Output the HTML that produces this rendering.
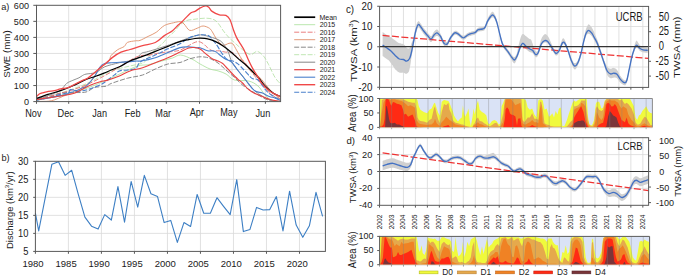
<!DOCTYPE html>
<html><head><meta charset="utf-8"><style>
html,body{margin:0;padding:0;background:#fff;width:685px;height:277px;overflow:hidden}
svg{display:block}
text{font-family:"Liberation Sans", sans-serif;stroke:#1a1a1a;stroke-width:0px;paint-order:stroke;}
</style></head><body>
<svg width="685" height="277" viewBox="0 0 685 277">
<defs>
<clipPath id="clipA"><rect x="36.5" y="5.3" width="244.1" height="96.3"/></clipPath>
<clipPath id="clipC"><rect x="379.6" y="6.4" width="269" height="81"/></clipPath>
<clipPath id="clipD"><rect x="379.6" y="137.7" width="269" height="67.6"/></clipPath>
<clipPath id="clipAC"><rect x="379.6" y="98.5" width="272.8" height="28.9"/></clipPath>
<clipPath id="clipAD"><rect x="379.6" y="236.4" width="270" height="28.3"/></clipPath>
</defs>
<rect width="685" height="277" fill="#fff"/>
<line x1="36.50" y1="85.55" x2="280.60" y2="85.55" stroke="#d9d9d9" stroke-width="0.8" />
<line x1="36.50" y1="69.50" x2="280.60" y2="69.50" stroke="#d9d9d9" stroke-width="0.8" />
<line x1="36.50" y1="53.45" x2="280.60" y2="53.45" stroke="#d9d9d9" stroke-width="0.8" />
<line x1="36.50" y1="37.40" x2="280.60" y2="37.40" stroke="#d9d9d9" stroke-width="0.8" />
<line x1="36.50" y1="21.35" x2="280.60" y2="21.35" stroke="#d9d9d9" stroke-width="0.8" />
<line x1="68.70" y1="5.30" x2="68.70" y2="101.60" stroke="#d9d9d9" stroke-width="0.8" />
<line x1="102.20" y1="5.30" x2="102.20" y2="101.60" stroke="#d9d9d9" stroke-width="0.8" />
<line x1="135.60" y1="5.30" x2="135.60" y2="101.60" stroke="#d9d9d9" stroke-width="0.8" />
<line x1="166.30" y1="5.30" x2="166.30" y2="101.60" stroke="#d9d9d9" stroke-width="0.8" />
<line x1="199.50" y1="5.30" x2="199.50" y2="101.60" stroke="#d9d9d9" stroke-width="0.8" />
<line x1="232.00" y1="5.30" x2="232.00" y2="101.60" stroke="#d9d9d9" stroke-width="0.8" />
<line x1="265.40" y1="5.30" x2="265.40" y2="101.60" stroke="#d9d9d9" stroke-width="0.8" />
<g clip-path="url(#clipA)">
<path d="M36.50,100.00 C40.42,99.25 51.75,97.42 60.00,95.50 C68.25,93.58 77.47,91.42 86.00,88.50 C94.53,85.58 102.82,81.67 111.20,78.00 C119.58,74.33 130.02,68.73 136.30,66.50 C142.58,64.27 144.68,65.52 148.90,64.60 C153.12,63.68 157.67,62.10 161.60,61.00 C165.53,59.90 169.33,59.00 172.50,58.00 C175.67,57.00 177.35,54.82 180.60,55.00 C183.85,55.18 188.75,57.60 192.00,59.10 C195.25,60.60 197.10,62.35 200.10,64.00 C203.10,65.65 207.00,67.85 210.00,69.00 C213.00,70.15 215.40,70.05 218.10,70.90 C220.80,71.75 223.48,72.58 226.20,74.10 C228.92,75.62 230.65,78.85 234.40,80.00 C238.15,81.15 244.77,80.00 248.70,81.00 C252.63,82.00 255.28,83.67 258.00,86.00 C260.72,88.33 262.67,92.58 265.00,95.00 C267.33,97.42 269.40,99.45 272.00,100.50 C274.60,101.55 279.17,101.17 280.60,101.30" fill="none" stroke="#a8e098" stroke-width="0.8" stroke-linejoin="round" />
<path d="M36.50,99.50 C38.75,98.92 44.42,97.58 50.00,96.00 C55.58,94.42 63.33,92.33 70.00,90.00 C76.67,87.67 83.13,85.17 90.00,82.00 C96.87,78.83 104.53,73.67 111.20,71.00 C117.87,68.33 124.58,67.42 130.00,66.00 C135.42,64.58 140.37,64.33 143.70,62.50 C147.03,60.67 147.95,57.25 150.00,55.00 C152.05,52.75 153.83,51.00 156.00,49.00 C158.17,47.00 161.00,45.00 163.00,43.00 C165.00,41.00 166.27,38.75 168.00,37.00 C169.73,35.25 171.40,34.50 173.40,32.50 C175.40,30.50 177.83,26.98 180.00,25.00 C182.17,23.02 183.90,21.57 186.40,20.60 C188.90,19.63 191.95,19.60 195.00,19.20 C198.05,18.80 201.72,18.20 204.70,18.20 C207.68,18.20 210.73,18.45 212.90,19.20 C215.07,19.95 215.95,20.75 217.70,22.70 C219.45,24.65 221.52,28.42 223.40,30.90 C225.28,33.38 226.90,35.42 229.00,37.60 C231.10,39.78 233.67,41.93 236.00,44.00 C238.33,46.07 240.57,48.23 243.00,50.00 C245.43,51.77 248.25,54.37 250.60,54.60 C252.95,54.83 254.93,51.13 257.10,51.40 C259.27,51.67 261.70,54.03 263.60,56.20 C265.50,58.37 266.60,60.87 268.50,64.40 C270.40,67.93 272.98,74.13 275.00,77.40 C277.02,80.67 279.67,82.90 280.60,84.00" fill="none" stroke="#b0e0a0" stroke-width="0.8" stroke-linejoin="round" stroke-dasharray="5,1.7"/>
<path d="M36.50,100.50 C38.75,99.92 45.98,98.25 50.00,97.00 C54.02,95.75 56.78,93.73 60.60,93.00 C64.42,92.27 68.67,92.77 72.90,92.60 C77.13,92.43 82.40,92.85 86.00,92.00 C89.60,91.15 91.17,88.47 94.50,87.50 C97.83,86.53 103.22,86.87 106.00,86.20 C108.78,85.53 107.62,84.83 111.20,83.50 C114.78,82.17 122.27,79.62 127.50,78.20 C132.73,76.78 137.97,76.53 142.60,75.00 C147.23,73.47 151.08,70.83 155.30,69.00 C159.52,67.17 163.78,65.08 167.90,64.00 C172.02,62.92 176.53,63.32 180.00,62.50 C183.47,61.68 185.62,60.03 188.70,59.10 C191.78,58.17 195.78,57.23 198.50,56.90 C201.22,56.57 203.08,56.83 205.00,57.10 C206.92,57.37 207.83,57.52 210.00,58.50 C212.17,59.48 215.33,61.08 218.00,63.00 C220.67,64.92 223.33,67.67 226.00,70.00 C228.67,72.33 231.13,74.40 234.00,77.00 C236.87,79.60 240.07,83.15 243.20,85.60 C246.33,88.05 250.00,89.97 252.80,91.70 C255.60,93.43 257.47,94.62 260.00,96.00 C262.53,97.38 265.50,99.12 268.00,100.00 C270.50,100.88 273.83,101.08 275.00,101.30" fill="none" stroke="#888888" stroke-width="1.0" stroke-linejoin="round" stroke-dasharray="5,1.7"/>
<path d="M36.50,99.00 C40.42,98.08 51.75,95.83 60.00,93.50 C68.25,91.17 77.47,88.58 86.00,85.00 C94.53,81.42 102.82,76.67 111.20,72.00 C119.58,67.33 130.02,59.80 136.30,57.00 C142.58,54.20 144.68,55.93 148.90,55.20 C153.12,54.47 156.75,53.35 161.60,52.60 C166.45,51.85 173.60,51.80 178.00,50.70 C182.40,49.60 185.40,47.30 188.00,46.00 C190.60,44.70 191.85,43.63 193.60,42.90 C195.35,42.17 196.93,41.50 198.50,41.60 C200.07,41.70 201.48,42.48 203.00,43.50 C204.52,44.52 206.00,46.48 207.60,47.70 C209.20,48.92 210.72,50.28 212.60,50.80 C214.48,51.32 216.78,50.58 218.90,50.80 C221.02,51.02 222.98,51.78 225.30,52.10 C227.62,52.42 230.70,51.75 232.80,52.70 C234.90,53.65 236.00,56.32 237.90,57.80 C239.80,59.28 242.18,59.57 244.20,61.60 C246.22,63.63 247.70,66.93 250.00,70.00 C252.30,73.07 255.50,77.00 258.00,80.00 C260.50,83.00 262.67,85.50 265.00,88.00 C267.33,90.50 269.40,93.17 272.00,95.00 C274.60,96.83 279.17,98.33 280.60,99.00" fill="none" stroke="#e87070" stroke-width="0.9" stroke-linejoin="round" stroke-dasharray="5,1.7"/>
<path d="M40.00,101.40 C41.38,101.37 45.90,101.45 48.30,101.20 C50.70,100.95 51.95,100.72 54.40,99.90 C56.85,99.08 59.92,97.52 63.00,96.30 C66.08,95.08 70.23,93.73 72.90,92.60 C75.57,91.47 76.82,90.73 79.00,89.50 C81.18,88.27 83.83,86.78 86.00,85.20 C88.17,83.62 90.05,82.37 92.00,80.00 C93.95,77.63 95.87,73.33 97.70,71.00 C99.53,68.67 101.45,67.33 103.00,66.00 C104.55,64.67 105.90,64.00 107.00,63.00 C108.10,62.00 108.90,61.27 109.60,60.00 C110.30,58.73 109.85,57.12 111.20,55.40 C112.55,53.68 115.53,51.18 117.70,49.70 C119.87,48.22 122.57,47.72 124.20,46.50 C125.83,45.28 125.60,43.35 127.50,42.40 C129.40,41.45 133.52,41.13 135.60,40.80 C137.68,40.47 137.92,41.13 140.00,40.40 C142.08,39.67 145.40,37.75 148.10,36.40 C150.80,35.05 153.48,34.12 156.20,32.30 C158.92,30.48 161.53,27.08 164.40,25.50 C167.27,23.92 170.80,23.43 173.40,22.80 C176.00,22.17 178.23,21.52 180.00,21.70 C181.77,21.88 182.38,22.45 184.00,23.90 C185.62,25.35 187.50,29.68 189.70,30.40 C191.90,31.12 194.97,28.93 197.20,28.20 C199.43,27.47 201.03,25.97 203.10,26.00 C205.17,26.03 207.95,27.23 209.60,28.40 C211.25,29.57 211.87,31.27 213.00,33.00 C214.13,34.73 214.78,36.77 216.40,38.80 C218.02,40.83 220.60,44.45 222.70,45.20 C224.80,45.95 227.32,43.52 229.00,43.30 C230.68,43.08 231.53,42.75 232.80,43.90 C234.07,45.05 235.12,47.68 236.60,50.20 C238.08,52.72 239.37,55.55 241.70,59.00 C244.03,62.45 247.77,67.98 250.60,70.90 C253.43,73.82 256.40,74.48 258.70,76.50 C261.00,78.52 262.18,80.42 264.40,83.00 C266.62,85.58 269.30,89.33 272.00,92.00 C274.70,94.67 279.17,97.83 280.60,99.00" fill="none" stroke="#e0906a" stroke-width="0.9" stroke-linejoin="round" />
<path d="M36.50,99.00 C38.75,98.33 45.98,96.50 50.00,95.00 C54.02,93.50 57.82,91.93 60.60,90.00 C63.38,88.07 64.65,85.02 66.70,83.40 C68.75,81.78 70.85,81.23 72.90,80.30 C74.95,79.37 77.37,78.62 79.00,77.80 C80.63,76.98 81.53,76.02 82.70,75.40 C83.87,74.78 83.77,74.60 86.00,74.10 C88.23,73.60 92.98,73.62 96.10,72.40 C99.22,71.18 100.82,68.42 104.70,66.80 C108.58,65.18 114.25,63.92 119.40,62.70 C124.55,61.48 131.93,61.07 135.60,59.50 C139.27,57.93 139.60,54.55 141.40,53.30 C143.20,52.05 144.13,52.63 146.40,52.00 C148.67,51.37 151.90,50.45 155.00,49.50 C158.10,48.55 161.80,47.35 165.00,46.30 C168.20,45.25 170.25,44.58 174.20,43.20 C178.15,41.82 184.65,39.37 188.70,38.00 C192.75,36.63 195.78,35.42 198.50,35.00 C201.22,34.58 202.65,35.07 205.00,35.50 C207.35,35.93 210.07,36.73 212.60,37.60 C215.13,38.47 218.08,39.23 220.20,40.70 C222.32,42.17 223.83,44.18 225.30,46.40 C226.77,48.62 227.95,51.47 229.00,54.00 C230.05,56.53 230.43,59.27 231.60,61.60 C232.77,63.93 234.28,65.72 236.00,68.00 C237.72,70.28 239.78,72.60 241.90,75.30 C244.02,78.00 246.52,81.58 248.70,84.20 C250.88,86.82 252.78,89.03 255.00,91.00 C257.22,92.97 259.50,94.50 262.00,96.00 C264.50,97.50 267.33,99.12 270.00,100.00 C272.67,100.88 276.67,101.08 278.00,101.30" fill="none" stroke="#909090" stroke-width="1.0" stroke-linejoin="round" />
<path d="M36.50,100.00 C39.48,99.48 50.38,97.63 54.40,96.90 C58.42,96.17 58.33,96.12 60.60,95.60 C62.87,95.08 66.37,94.82 68.00,93.80 C69.63,92.78 68.98,90.05 70.40,89.50 C71.82,88.95 74.45,90.80 76.50,90.50 C78.55,90.20 81.12,88.38 82.70,87.70 C84.28,87.02 84.03,88.27 86.00,86.40 C87.97,84.53 92.17,79.73 94.50,76.50 C96.83,73.27 98.30,69.15 100.00,67.00 C101.70,64.85 102.83,64.32 104.70,63.60 C106.57,62.88 107.40,62.98 111.20,62.70 C115.00,62.42 123.43,62.17 127.50,61.90 C131.57,61.63 133.08,61.28 135.60,61.10 C138.12,60.92 139.32,61.37 142.60,60.80 C145.88,60.23 152.13,58.63 155.30,57.70 C158.47,56.77 159.50,56.05 161.60,55.20 C163.70,54.35 164.83,53.87 167.90,52.60 C170.97,51.33 176.53,48.55 180.00,47.60 C183.47,46.65 185.90,46.88 188.70,46.90 C191.50,46.92 194.92,47.57 196.80,47.70 C198.68,47.83 198.20,47.18 200.00,47.70 C201.80,48.22 205.50,50.28 207.60,50.80 C209.70,51.32 211.13,50.58 212.60,50.80 C214.07,51.02 215.13,51.35 216.40,52.10 C217.67,52.85 218.72,54.15 220.20,55.30 C221.68,56.45 223.40,57.85 225.30,59.00 C227.20,60.15 229.55,60.37 231.60,62.20 C233.65,64.03 235.25,67.03 237.60,70.00 C239.95,72.97 242.93,76.60 245.70,80.00 C248.47,83.40 251.42,88.22 254.20,90.40 C256.98,92.58 259.88,92.08 262.40,93.10 C264.92,94.12 267.23,95.70 269.30,96.50 C271.37,97.30 272.92,97.23 274.80,97.90 C276.68,98.57 279.63,100.07 280.60,100.50" fill="none" stroke="#4a80cc" stroke-width="1.1" stroke-linejoin="round" />
<path d="M36.50,99.90 C37.65,99.70 41.03,99.10 43.40,98.70 C45.77,98.30 47.83,98.22 50.70,97.50 C53.57,96.78 56.90,95.32 60.60,94.40 C64.30,93.48 68.67,92.73 72.90,92.00 C77.13,91.27 81.48,91.17 86.00,90.00 C90.52,88.83 96.88,86.30 100.00,85.00 C103.12,83.70 102.28,83.88 104.70,82.20 C107.12,80.52 112.05,76.78 114.50,74.90 C116.95,73.02 117.23,71.72 119.40,70.90 C121.57,70.08 124.80,70.40 127.50,70.00 C130.20,69.60 133.50,69.82 135.60,68.50 C137.70,67.18 137.88,63.90 140.10,62.10 C142.32,60.30 145.95,59.07 148.90,57.70 C151.85,56.33 154.63,55.38 157.80,53.90 C160.97,52.42 164.20,50.48 167.90,48.80 C171.60,47.12 176.53,45.60 180.00,43.80 C183.47,42.00 185.62,39.47 188.70,38.00 C191.78,36.53 195.57,35.50 198.50,35.00 C201.43,34.50 204.37,34.68 206.30,35.00 C208.23,35.32 208.83,35.83 210.10,36.90 C211.37,37.97 212.63,39.82 213.90,41.40 C215.17,42.98 216.43,44.52 217.70,46.40 C218.97,48.28 220.23,50.80 221.50,52.70 C222.77,54.60 224.05,56.53 225.30,57.80 C226.55,59.07 227.75,59.78 229.00,60.30 C230.25,60.82 231.37,60.35 232.80,60.90 C234.23,61.45 235.73,62.08 237.60,63.60 C239.47,65.12 241.92,67.82 244.00,70.00 C246.08,72.18 248.63,75.25 250.10,76.70 C251.57,78.15 251.48,78.15 252.80,78.70 C254.12,79.25 256.05,78.40 258.00,80.00 C259.95,81.60 262.85,86.23 264.50,88.30 C266.15,90.37 266.18,90.92 267.90,92.40 C269.62,93.88 272.68,95.93 274.80,97.20 C276.92,98.47 279.63,99.53 280.60,100.00" fill="none" stroke="#4a80cc" stroke-width="1.1" stroke-linejoin="round" stroke-dasharray="5,1.7"/>
<path d="M36.50,99.50 C40.42,98.92 53.58,97.08 60.00,96.00 C66.42,94.92 70.07,94.77 75.00,93.00 C79.93,91.23 85.27,87.33 89.60,85.40 C93.93,83.47 98.27,82.20 101.00,81.40 C103.73,80.60 102.93,81.50 106.00,80.60 C109.07,79.70 115.40,77.62 119.40,76.00 C123.40,74.38 126.13,72.27 130.00,70.90 C133.87,69.53 138.38,69.17 142.60,67.80 C146.82,66.43 151.08,64.38 155.30,62.70 C159.52,61.02 163.78,59.48 167.90,57.70 C172.02,55.92 176.53,53.62 180.00,52.00 C183.47,50.38 186.37,48.75 188.70,48.00 C191.03,47.25 192.12,47.35 194.00,47.50 C195.88,47.65 198.37,48.13 200.00,48.90 C201.63,49.67 202.53,51.03 203.80,52.10 C205.07,53.17 206.13,54.15 207.60,55.30 C209.07,56.45 210.92,58.07 212.60,59.00 C214.28,59.93 216.02,60.15 217.70,60.90 C219.38,61.65 221.32,62.48 222.70,63.50 C224.08,64.52 224.60,65.50 226.00,67.00 C227.40,68.50 229.17,70.50 231.10,72.50 C233.03,74.50 235.70,77.25 237.60,79.00 C239.50,80.75 240.65,81.22 242.50,83.00 C244.35,84.78 246.52,87.90 248.70,89.70 C250.88,91.50 253.32,92.67 255.60,93.80 C257.88,94.93 260.12,95.58 262.40,96.50 C264.68,97.42 267.00,98.57 269.30,99.30 C271.60,100.03 274.32,100.57 276.20,100.90 C278.08,101.23 279.87,101.23 280.60,101.30" fill="none" stroke="#e84040" stroke-width="1.1" stroke-linejoin="round" />
<path d="M36.50,98.50 C38.42,97.82 43.98,95.70 48.00,94.40 C52.02,93.10 56.45,92.13 60.60,90.70 C64.75,89.27 68.67,87.67 72.90,85.80 C77.13,83.93 82.32,81.05 86.00,79.50 C89.68,77.95 92.00,77.55 95.00,76.50 C98.00,75.45 101.30,74.28 104.00,73.20 C106.70,72.12 108.53,71.12 111.20,70.00 C113.87,68.88 116.87,68.00 120.00,66.50 C123.13,65.00 126.23,62.68 130.00,61.00 C133.77,59.32 138.38,58.00 142.60,56.40 C146.82,54.80 151.08,53.08 155.30,51.40 C159.52,49.72 163.92,47.90 167.90,46.30 C171.88,44.70 175.73,42.92 179.20,41.80 C182.67,40.68 186.07,40.15 188.70,39.60 C191.33,39.05 193.12,38.73 195.00,38.50 C196.88,38.27 197.90,38.15 200.00,38.20 C202.10,38.25 205.07,38.27 207.60,38.80 C210.13,39.33 212.68,40.23 215.20,41.40 C217.72,42.57 220.18,44.12 222.70,45.80 C225.22,47.48 227.77,49.40 230.30,51.50 C232.83,53.60 235.58,56.40 237.90,58.40 C240.22,60.40 242.08,61.65 244.20,63.50 C246.32,65.35 248.18,67.08 250.60,69.50 C253.02,71.92 256.30,75.25 258.70,78.00 C261.10,80.75 262.55,83.45 265.00,86.00 C267.45,88.55 270.80,91.55 273.40,93.30 C276.00,95.05 279.40,95.97 280.60,96.50" fill="none" stroke="#000000" stroke-width="1.25" stroke-linejoin="round" />
<path d="M36.50,96.50 C37.03,96.05 38.55,94.45 39.70,93.80 C40.85,93.15 41.97,93.02 43.40,92.60 C44.83,92.18 46.47,91.62 48.30,91.30 C50.13,90.98 52.35,91.10 54.40,90.70 C56.45,90.30 58.33,89.40 60.60,88.90 C62.87,88.40 65.55,88.52 68.00,87.70 C70.45,86.88 72.85,85.23 75.30,84.00 C77.75,82.77 80.58,81.30 82.70,80.30 C84.82,79.30 85.50,79.72 88.00,78.00 C90.50,76.28 95.45,71.87 97.70,70.00 C99.95,68.13 100.05,68.02 101.50,66.80 C102.95,65.58 104.50,64.32 106.40,62.70 C108.30,61.08 110.47,58.85 112.90,57.10 C115.33,55.35 118.15,53.47 121.00,52.20 C123.85,50.93 126.40,50.58 130.00,49.50 C133.60,48.42 138.38,46.87 142.60,45.70 C146.82,44.53 151.67,44.18 155.30,42.50 C158.93,40.82 161.53,37.57 164.40,35.60 C167.27,33.63 170.20,32.47 172.50,30.70 C174.80,28.93 176.62,26.50 178.20,25.00 C179.78,23.50 179.92,23.70 182.00,21.70 C184.08,19.70 188.53,14.72 190.70,13.00 C192.87,11.28 193.47,12.22 195.00,11.40 C196.53,10.58 198.13,9.02 199.90,8.10 C201.67,7.18 204.12,6.03 205.60,5.90 C207.08,5.77 207.72,6.38 208.80,7.30 C209.88,8.22 210.33,10.13 212.10,11.40 C213.87,12.67 217.10,14.23 219.40,14.90 C221.70,15.57 224.15,14.63 225.90,15.40 C227.65,16.17 228.63,17.07 229.90,19.50 C231.17,21.93 232.38,26.98 233.50,30.00 C234.62,33.02 235.45,35.28 236.60,37.60 C237.75,39.92 239.13,41.80 240.40,43.90 C241.67,46.00 242.93,47.68 244.20,50.20 C245.47,52.72 246.67,56.10 248.00,59.00 C249.33,61.90 250.68,64.82 252.20,67.60 C253.72,70.38 255.40,72.93 257.10,75.70 C258.80,78.47 260.13,81.53 262.40,84.20 C264.67,86.87 267.95,89.73 270.70,91.70 C273.45,93.67 277.25,95.15 278.90,96.00 C280.55,96.85 280.32,96.67 280.60,96.80" fill="none" stroke="#f04848" stroke-width="1.3" stroke-linejoin="round" />
</g>
<rect x="36.5" y="5.3" width="244.10" height="96.30" fill="none" stroke="#595959" stroke-width="1"/>
<line x1="33.30" y1="101.60" x2="36.50" y2="101.60" stroke="#595959" stroke-width="1" />
<text transform="translate(23.92 104.86) scale(1 1.015)" font-size="9.05" fill="#1a1a1a">0</text>
<line x1="33.30" y1="85.55" x2="36.50" y2="85.55" stroke="#595959" stroke-width="1" />
<text transform="translate(13.85 88.81) scale(1 1.015)" font-size="9.05" fill="#1a1a1a">100</text>
<line x1="33.30" y1="69.50" x2="36.50" y2="69.50" stroke="#595959" stroke-width="1" />
<text transform="translate(13.85 72.76) scale(1 1.015)" font-size="9.05" fill="#1a1a1a">200</text>
<line x1="33.30" y1="53.45" x2="36.50" y2="53.45" stroke="#595959" stroke-width="1" />
<text transform="translate(13.85 56.71) scale(1 1.015)" font-size="9.05" fill="#1a1a1a">300</text>
<line x1="33.30" y1="37.40" x2="36.50" y2="37.40" stroke="#595959" stroke-width="1" />
<text transform="translate(13.85 40.66) scale(1 1.015)" font-size="9.05" fill="#1a1a1a">400</text>
<line x1="33.30" y1="21.35" x2="36.50" y2="21.35" stroke="#595959" stroke-width="1" />
<text transform="translate(13.85 24.61) scale(1 1.015)" font-size="9.05" fill="#1a1a1a">500</text>
<line x1="33.30" y1="5.30" x2="36.50" y2="5.30" stroke="#595959" stroke-width="1" />
<text transform="translate(13.85 8.56) scale(1 1.015)" font-size="9.05" fill="#1a1a1a">600</text>
<line x1="36.50" y1="101.60" x2="36.50" y2="103.80" stroke="#595959" stroke-width="1" />
<text transform="translate(25.24 117.00) scale(1 1.112)" font-size="9.16" fill="#1a1a1a">Nov</text>
<line x1="68.70" y1="101.60" x2="68.70" y2="103.80" stroke="#595959" stroke-width="1" />
<text transform="translate(57.56 117.00) scale(1 1.112)" font-size="9.16" fill="#1a1a1a">Dec</text>
<line x1="102.20" y1="101.60" x2="102.20" y2="103.80" stroke="#595959" stroke-width="1" />
<text transform="translate(92.30 117.00) scale(1 1.112)" font-size="9.16" fill="#1a1a1a">Jan</text>
<line x1="135.60" y1="101.60" x2="135.60" y2="103.80" stroke="#595959" stroke-width="1" />
<text transform="translate(124.77 117.19) scale(1 1.112)" font-size="9.16" fill="#1a1a1a">Feb</text>
<line x1="166.30" y1="101.60" x2="166.30" y2="103.80" stroke="#595959" stroke-width="1" />
<text transform="translate(155.35 117.00) scale(1 1.112)" font-size="9.16" fill="#1a1a1a">Mar</text>
<line x1="199.50" y1="101.60" x2="199.50" y2="103.80" stroke="#595959" stroke-width="1" />
<text transform="translate(189.69 115.99) scale(1 1.112)" font-size="9.16" fill="#1a1a1a">Apr</text>
<line x1="232.00" y1="101.60" x2="232.00" y2="103.80" stroke="#595959" stroke-width="1" />
<text transform="translate(220.23 115.99) scale(1 1.112)" font-size="9.16" fill="#1a1a1a">May</text>
<line x1="265.40" y1="101.60" x2="265.40" y2="103.80" stroke="#595959" stroke-width="1" />
<text transform="translate(255.50 117.00) scale(1 1.112)" font-size="9.16" fill="#1a1a1a">Jun</text>
<text transform="translate(9.56 77.79) scale(1 1.027) rotate(-90)" font-size="9.47" fill="#1a1a1a">SWE (mm)</text>
<text transform="translate(1.20 9.80) scale(1 1.000)" font-size="9.20" fill="#1a1a1a">a)</text>
<line x1="294.20" y1="17.20" x2="315.20" y2="17.20" stroke="#000000" stroke-width="1.7" />
<text transform="translate(319.42 19.77) scale(1 1.125)" font-size="7.01" fill="#1a1a1a">Mean</text>
<line x1="294.20" y1="24.70" x2="315.20" y2="24.70" stroke="#a8e098" stroke-width="0.8" />
<text transform="translate(319.65 27.31) scale(1 1.125)" font-size="7.01" fill="#1a1a1a">2015</text>
<line x1="294.20" y1="32.20" x2="315.20" y2="32.20" stroke="#e87070" stroke-width="0.9" stroke-dasharray="5,1.7"/>
<text transform="translate(319.65 34.81) scale(1 1.125)" font-size="7.01" fill="#1a1a1a">2016</text>
<line x1="294.20" y1="39.70" x2="315.20" y2="39.70" stroke="#e0906a" stroke-width="0.9" />
<text transform="translate(319.65 42.31) scale(1 1.125)" font-size="7.01" fill="#1a1a1a">2017</text>
<line x1="294.20" y1="47.20" x2="315.20" y2="47.20" stroke="#888888" stroke-width="1.0" stroke-dasharray="5,1.7"/>
<text transform="translate(319.65 49.81) scale(1 1.125)" font-size="7.01" fill="#1a1a1a">2018</text>
<line x1="294.20" y1="54.70" x2="315.20" y2="54.70" stroke="#b0e0a0" stroke-width="0.8" stroke-dasharray="5,1.7"/>
<text transform="translate(319.65 57.31) scale(1 1.125)" font-size="7.01" fill="#1a1a1a">2019</text>
<line x1="294.20" y1="62.20" x2="315.20" y2="62.20" stroke="#909090" stroke-width="1.1" />
<text transform="translate(319.65 64.81) scale(1 1.125)" font-size="7.01" fill="#1a1a1a">2020</text>
<line x1="294.20" y1="69.70" x2="315.20" y2="69.70" stroke="#e84040" stroke-width="1.2" />
<text transform="translate(319.65 72.31) scale(1 1.125)" font-size="7.01" fill="#1a1a1a">2021</text>
<line x1="294.20" y1="77.20" x2="315.20" y2="77.20" stroke="#4a80cc" stroke-width="1.1" />
<text transform="translate(319.65 79.81) scale(1 1.125)" font-size="7.01" fill="#1a1a1a">2022</text>
<line x1="294.20" y1="84.70" x2="315.20" y2="84.70" stroke="#f04848" stroke-width="1.4" />
<text transform="translate(319.65 87.31) scale(1 1.125)" font-size="7.01" fill="#1a1a1a">2023</text>
<line x1="294.20" y1="92.20" x2="315.20" y2="92.20" stroke="#4a80cc" stroke-width="1.1" stroke-dasharray="5,1.7"/>
<text transform="translate(319.65 94.81) scale(1 1.125)" font-size="7.01" fill="#1a1a1a">2024</text>
<line x1="35.40" y1="233.38" x2="325.40" y2="233.38" stroke="#d9d9d9" stroke-width="0.8" />
<line x1="35.40" y1="215.36" x2="325.40" y2="215.36" stroke="#d9d9d9" stroke-width="0.8" />
<line x1="35.40" y1="197.34" x2="325.40" y2="197.34" stroke="#d9d9d9" stroke-width="0.8" />
<line x1="35.40" y1="179.32" x2="325.40" y2="179.32" stroke="#d9d9d9" stroke-width="0.8" />
<line x1="68.41" y1="161.30" x2="68.41" y2="251.40" stroke="#d9d9d9" stroke-width="0.8" />
<line x1="101.42" y1="161.30" x2="101.42" y2="251.40" stroke="#d9d9d9" stroke-width="0.8" />
<line x1="134.43" y1="161.30" x2="134.43" y2="251.40" stroke="#d9d9d9" stroke-width="0.8" />
<line x1="167.44" y1="161.30" x2="167.44" y2="251.40" stroke="#d9d9d9" stroke-width="0.8" />
<line x1="200.45" y1="161.30" x2="200.45" y2="251.40" stroke="#d9d9d9" stroke-width="0.8" />
<line x1="233.46" y1="161.30" x2="233.46" y2="251.40" stroke="#d9d9d9" stroke-width="0.8" />
<line x1="266.47" y1="161.30" x2="266.47" y2="251.40" stroke="#d9d9d9" stroke-width="0.8" />
<line x1="299.48" y1="161.30" x2="299.48" y2="251.40" stroke="#d9d9d9" stroke-width="0.8" />
<polyline points="35.40,213.20 38.70,230.86 45.30,197.34 51.91,164.18 58.51,161.66 65.11,175.36 71.71,170.31 78.31,194.46 84.91,217.16 91.52,226.17 98.12,229.06 104.72,214.64 111.32,220.05 117.93,186.53 124.53,222.21 131.13,181.48 137.73,207.07 144.33,175.36 150.94,193.74 157.54,196.62 164.14,222.57 170.74,220.41 177.34,242.39 183.95,222.57 190.55,226.53 197.15,194.46 203.75,213.20 210.35,213.20 216.96,197.70 223.56,206.35 230.16,214.64 236.76,179.68 243.36,231.58 249.97,229.42 256.57,207.43 263.17,209.95 269.77,209.59 276.37,196.62 282.98,230.86 289.58,191.21 296.18,225.09 302.78,237.34 309.38,225.81 315.99,192.29 322.59,216.44" fill="none" stroke="#3d7fc4" stroke-width="1.1" stroke-linejoin="round"/>
<rect x="35.4" y="161.3" width="290.00" height="90.10" fill="none" stroke="#595959" stroke-width="1"/>
<line x1="33.20" y1="251.40" x2="35.40" y2="251.40" stroke="#595959" stroke-width="1" />
<text transform="translate(23.27 254.84) scale(1 1.116)" font-size="9.37" fill="#1a1a1a">5</text>
<line x1="33.20" y1="233.38" x2="35.40" y2="233.38" stroke="#595959" stroke-width="1" />
<text transform="translate(18.05 236.88) scale(1 1.116)" font-size="9.37" fill="#1a1a1a">10</text>
<line x1="33.20" y1="215.36" x2="35.40" y2="215.36" stroke="#595959" stroke-width="1" />
<text transform="translate(18.07 218.80) scale(1 1.116)" font-size="9.37" fill="#1a1a1a">15</text>
<line x1="33.20" y1="197.34" x2="35.40" y2="197.34" stroke="#595959" stroke-width="1" />
<text transform="translate(18.05 200.84) scale(1 1.116)" font-size="9.37" fill="#1a1a1a">20</text>
<line x1="33.20" y1="179.32" x2="35.40" y2="179.32" stroke="#595959" stroke-width="1" />
<text transform="translate(18.07 182.82) scale(1 1.116)" font-size="9.37" fill="#1a1a1a">25</text>
<line x1="33.20" y1="161.30" x2="35.40" y2="161.30" stroke="#595959" stroke-width="1" />
<text transform="translate(18.05 164.80) scale(1 1.116)" font-size="9.37" fill="#1a1a1a">30</text>
<line x1="35.40" y1="251.40" x2="35.40" y2="253.80" stroke="#595959" stroke-width="1" />
<text transform="translate(22.49 267.00) scale(1 1.009)" font-size="9.53" fill="#1a1a1a">1980</text>
<line x1="68.41" y1="251.40" x2="68.41" y2="253.80" stroke="#595959" stroke-width="1" />
<text transform="translate(55.51 267.00) scale(1 1.009)" font-size="9.53" fill="#1a1a1a">1985</text>
<line x1="101.42" y1="251.40" x2="101.42" y2="253.80" stroke="#595959" stroke-width="1" />
<text transform="translate(88.51 267.00) scale(1 1.009)" font-size="9.53" fill="#1a1a1a">1990</text>
<line x1="134.43" y1="251.40" x2="134.43" y2="253.80" stroke="#595959" stroke-width="1" />
<text transform="translate(121.53 267.00) scale(1 1.009)" font-size="9.53" fill="#1a1a1a">1995</text>
<line x1="167.44" y1="251.40" x2="167.44" y2="253.80" stroke="#595959" stroke-width="1" />
<text transform="translate(154.64 267.00) scale(1 1.009)" font-size="9.53" fill="#1a1a1a">2000</text>
<line x1="200.45" y1="251.40" x2="200.45" y2="253.80" stroke="#595959" stroke-width="1" />
<text transform="translate(187.67 267.00) scale(1 1.009)" font-size="9.53" fill="#1a1a1a">2005</text>
<line x1="233.46" y1="251.40" x2="233.46" y2="253.80" stroke="#595959" stroke-width="1" />
<text transform="translate(220.66 267.00) scale(1 1.009)" font-size="9.53" fill="#1a1a1a">2010</text>
<line x1="266.47" y1="251.40" x2="266.47" y2="253.80" stroke="#595959" stroke-width="1" />
<text transform="translate(253.69 267.00) scale(1 1.009)" font-size="9.53" fill="#1a1a1a">2015</text>
<line x1="299.48" y1="251.40" x2="299.48" y2="253.80" stroke="#595959" stroke-width="1" />
<text transform="translate(286.68 267.00) scale(1 1.009)" font-size="9.53" fill="#1a1a1a">2020</text>
<text transform="translate(12.75 249.03) scale(1 1.000) rotate(-90)" font-size="9.45" fill="#1a1a1a">Discharge (km<tspan font-size="5.86" dy="-3.78">3</tspan><tspan dy="3.78">/yr)</tspan></text>
<text transform="translate(1.50 160.90) scale(1 1.000)" font-size="9.20" fill="#1a1a1a">b)</text>
<line x1="379.60" y1="26.50" x2="648.60" y2="26.50" stroke="#d9d9d9" stroke-width="0.8" />
<line x1="379.60" y1="67.00" x2="648.60" y2="67.00" stroke="#d9d9d9" stroke-width="0.8" />
<line x1="391.47" y1="6.40" x2="391.47" y2="87.40" stroke="#d9d9d9" stroke-width="0.8" />
<line x1="403.44" y1="6.40" x2="403.44" y2="87.40" stroke="#d9d9d9" stroke-width="0.8" />
<line x1="415.41" y1="6.40" x2="415.41" y2="87.40" stroke="#d9d9d9" stroke-width="0.8" />
<line x1="427.38" y1="6.40" x2="427.38" y2="87.40" stroke="#d9d9d9" stroke-width="0.8" />
<line x1="439.35" y1="6.40" x2="439.35" y2="87.40" stroke="#d9d9d9" stroke-width="0.8" />
<line x1="451.32" y1="6.40" x2="451.32" y2="87.40" stroke="#d9d9d9" stroke-width="0.8" />
<line x1="463.29" y1="6.40" x2="463.29" y2="87.40" stroke="#d9d9d9" stroke-width="0.8" />
<line x1="475.26" y1="6.40" x2="475.26" y2="87.40" stroke="#d9d9d9" stroke-width="0.8" />
<line x1="487.23" y1="6.40" x2="487.23" y2="87.40" stroke="#d9d9d9" stroke-width="0.8" />
<line x1="499.20" y1="6.40" x2="499.20" y2="87.40" stroke="#d9d9d9" stroke-width="0.8" />
<line x1="511.17" y1="6.40" x2="511.17" y2="87.40" stroke="#d9d9d9" stroke-width="0.8" />
<line x1="523.14" y1="6.40" x2="523.14" y2="87.40" stroke="#d9d9d9" stroke-width="0.8" />
<line x1="535.11" y1="6.40" x2="535.11" y2="87.40" stroke="#d9d9d9" stroke-width="0.8" />
<line x1="547.08" y1="6.40" x2="547.08" y2="87.40" stroke="#d9d9d9" stroke-width="0.8" />
<line x1="559.05" y1="6.40" x2="559.05" y2="87.40" stroke="#d9d9d9" stroke-width="0.8" />
<line x1="571.02" y1="6.40" x2="571.02" y2="87.40" stroke="#d9d9d9" stroke-width="0.8" />
<line x1="582.99" y1="6.40" x2="582.99" y2="87.40" stroke="#d9d9d9" stroke-width="0.8" />
<line x1="594.96" y1="6.40" x2="594.96" y2="87.40" stroke="#d9d9d9" stroke-width="0.8" />
<line x1="606.93" y1="6.40" x2="606.93" y2="87.40" stroke="#d9d9d9" stroke-width="0.8" />
<line x1="618.90" y1="6.40" x2="618.90" y2="87.40" stroke="#d9d9d9" stroke-width="0.8" />
<line x1="630.87" y1="6.40" x2="630.87" y2="87.40" stroke="#d9d9d9" stroke-width="0.8" />
<line x1="642.84" y1="6.40" x2="642.84" y2="87.40" stroke="#d9d9d9" stroke-width="0.8" />
<g clip-path="url(#clipC)">
<path d="M382.60,32.00 L382.90,32.22 L383.30,32.50 L383.78,32.84 L384.31,33.23 L384.87,33.63 L385.43,34.03 L385.99,34.43 L386.50,34.80 L386.98,35.14 L387.45,35.45 L387.92,35.76 L388.39,36.08 L388.87,36.35 L389.36,36.56 L389.87,36.79 L390.40,37.08 L390.96,37.42 L391.55,37.81 L392.16,38.24 L392.79,38.69 L393.41,39.15 L394.03,39.60 L394.63,40.02 L395.20,40.40 L395.75,40.82 L396.27,41.24 L396.79,41.65 L397.29,42.04 L397.79,42.40 L398.29,42.72 L398.79,42.97 L399.30,43.16 L399.82,43.26 L400.35,43.37 L400.88,43.52 L401.41,43.64 L401.93,43.74 L402.44,43.85 L402.93,43.98 L403.40,44.17 L403.84,44.44 L404.27,44.77 L404.67,45.14 L405.07,45.56 L405.45,46.21 L405.84,46.80 L406.22,47.31 L406.60,47.70 L406.99,47.99 L407.39,48.23 L407.79,48.39 L408.18,48.49 L408.56,48.51 L408.93,48.45 L409.28,48.26 L409.60,47.98 L409.89,47.62 L410.14,47.19 L410.37,46.69 L410.59,46.11 L410.80,45.45 L411.02,44.72 L411.25,43.90 L411.50,43.00 L411.78,42.44 L412.07,41.77 L412.38,41.01 L412.69,40.19 L413.00,39.35 L413.31,38.06 L413.61,36.61 L413.90,35.26 L414.18,33.98 L414.44,32.69 L414.70,31.43 L414.96,30.20 L415.21,29.02 L415.47,27.91 L415.73,26.88 L416.00,25.95 L416.28,25.09 L416.56,24.27 L416.85,23.51 L417.14,22.82 L417.44,22.23 L417.73,21.75 L418.02,21.40 L418.30,21.20 L418.57,21.09 L418.83,21.14 L419.09,21.33 L419.34,21.63 L419.61,22.01 L419.88,22.44 L420.18,22.88 L420.50,23.32 L420.85,23.78 L421.22,24.31 L421.60,24.89 L422.00,25.50 L422.41,26.13 L422.83,26.77 L423.26,27.40 L423.70,28.00 L424.15,28.57 L424.61,29.15 L425.09,29.73 L425.58,30.31 L426.07,30.88 L426.56,31.44 L427.04,31.98 L427.50,32.50 L427.96,33.05 L428.41,33.64 L428.86,34.25 L429.30,34.84 L429.74,35.35 L430.17,35.76 L430.59,36.02 L431.00,36.10 L431.40,35.91 L431.79,35.50 L432.17,34.94 L432.55,34.27 L432.92,33.56 L433.28,32.86 L433.64,32.24 L434.00,31.74 L434.36,31.32 L434.71,30.93 L435.06,30.56 L435.41,30.23 L435.74,29.93 L436.07,29.69 L436.39,29.51 L436.70,29.40 L436.99,29.46 L437.27,29.59 L437.54,29.78 L437.80,30.02 L438.05,30.29 L438.30,30.58 L438.55,30.89 L438.80,31.19 L439.04,31.48 L439.28,31.79 L439.51,32.10 L439.74,32.44 L439.97,32.80 L440.20,33.20 L440.44,33.64 L440.70,34.13 L440.97,34.70 L441.26,35.29 L441.56,35.93 L441.86,36.60 L442.16,37.27 L442.45,37.91 L442.73,38.49 L443.00,39.00 L443.24,39.44 L443.47,39.85 L443.68,40.23 L443.88,40.57 L444.09,40.87 L444.31,41.13 L444.54,41.34 L444.80,41.50 L445.08,41.65 L445.38,41.80 L445.69,41.92 L446.01,41.99 L446.34,42.00 L446.68,41.92 L447.04,41.74 L447.40,41.44 L447.77,40.97 L448.16,40.34 L448.56,39.59 L448.96,38.76 L449.38,37.91 L449.81,37.06 L450.25,36.24 L450.70,35.50 L451.17,34.81 L451.67,34.11 L452.18,33.41 L452.70,32.75 L453.22,32.14 L453.73,31.62 L454.23,31.20 L454.70,30.90 L455.13,30.74 L455.53,30.69 L455.91,30.74 L456.27,30.87 L456.65,31.07 L457.06,31.31 L457.50,31.60 L458.00,31.90 L458.56,32.29 L459.18,32.83 L459.84,33.44 L460.52,34.09 L461.22,34.70 L461.90,35.23 L462.57,35.61 L463.20,35.80 L463.80,35.76 L464.38,35.54 L464.96,35.19 L465.52,34.74 L466.07,34.26 L466.62,33.77 L467.16,33.34 L467.70,33.00 L468.24,32.74 L468.77,32.50 L469.31,32.28 L469.83,32.07 L470.35,31.89 L470.85,31.72 L471.33,31.55 L471.80,31.40 L472.24,31.28 L472.66,31.19 L473.06,31.13 L473.45,31.08 L473.83,31.02 L474.21,30.93 L474.60,30.80 L475.00,30.60 L475.40,30.32 L475.80,29.97 L476.20,29.57 L476.59,29.14 L477.00,28.72 L477.42,28.32 L477.85,27.97 L478.30,27.70 L478.79,27.51 L479.31,27.38 L479.85,27.30 L480.41,27.25 L480.95,27.21 L481.48,27.17 L481.96,27.10 L482.40,27.00 L482.78,26.91 L483.10,26.86 L483.39,26.82 L483.66,26.76 L483.92,26.65 L484.18,26.46 L484.47,26.15 L484.80,25.70 L485.16,25.03 L485.52,24.15 L485.90,23.15 L486.29,22.06 L486.70,20.94 L487.12,19.84 L487.55,18.79 L488.00,17.85 L488.48,16.96 L489.00,16.04 L489.55,15.13 L490.10,14.26 L490.65,13.46 L491.17,12.76 L491.66,12.20 L492.10,11.80 L492.48,11.72 L492.82,11.77 L493.12,11.92 L493.40,12.17 L493.67,12.51 L493.93,12.93 L494.21,13.41 L494.50,13.94 L494.80,14.52 L495.10,15.14 L495.40,15.83 L495.70,16.60 L496.01,17.45 L496.32,18.41 L496.65,19.49 L497.00,20.70 L497.37,22.04 L497.77,23.61 L498.19,25.33 L498.62,27.13 L499.04,28.95 L499.45,30.71 L499.84,32.34 L500.20,33.78 L500.52,35.05 L500.81,36.22 L501.09,37.31 L501.34,38.31 L501.60,39.25 L501.85,40.13 L502.12,40.96 L502.40,41.73 L502.69,42.44 L502.99,43.04 L503.28,43.58 L503.59,44.06 L503.90,44.51 L504.22,44.95 L504.55,45.41 L504.90,45.90 L505.27,46.38 L505.65,46.83 L506.04,47.28 L506.45,47.73 L506.86,48.18 L507.28,48.65 L507.69,49.13 L508.10,49.64 L508.51,50.19 L508.93,50.77 L509.35,51.38 L509.77,52.00 L510.19,52.62 L510.60,53.21 L511.01,53.76 L511.40,54.24 L511.78,54.72 L512.16,55.22 L512.52,55.72 L512.88,56.19 L513.24,56.58 L513.59,56.88 L513.95,57.04 L514.30,57.03 L514.65,56.88 L515.00,56.62 L515.34,56.24 L515.68,55.76 L516.03,55.18 L516.37,54.51 L516.73,53.78 L517.10,52.70 L517.49,50.63 L517.89,48.33 L518.31,46.49 L518.73,44.81 L519.14,43.14 L519.55,41.53 L519.94,40.07 L520.30,38.80 L520.63,37.70 L520.94,36.70 L521.23,35.97 L521.51,35.38 L521.79,34.87 L522.08,34.47 L522.38,34.16 L522.70,33.96 L523.04,33.91 L523.40,34.02 L523.76,34.25 L524.13,34.56 L524.51,34.93 L524.90,35.31 L525.30,35.66 L525.70,35.96 L526.11,36.25 L526.54,36.61 L526.98,36.99 L527.43,37.36 L527.88,37.73 L528.33,38.08 L528.77,38.41 L529.20,38.70 L529.62,38.94 L530.04,39.12 L530.46,39.26 L530.87,39.40 L531.28,40.10 L531.69,41.10 L532.09,42.16 L532.50,43.30 L532.91,44.58 L533.32,46.00 L533.74,47.50 L534.15,48.78 L534.56,49.60 L534.95,50.34 L535.33,50.94 L535.70,51.34 L536.04,51.57 L536.36,51.70 L536.66,51.72 L536.95,51.64 L537.24,51.45 L537.54,51.16 L537.86,50.77 L538.20,50.03 L538.57,48.91 L538.95,47.54 L539.34,46.00 L539.75,44.37 L540.16,42.72 L540.58,41.14 L540.99,39.69 L541.40,38.65 L541.81,37.79 L542.22,37.04 L542.63,36.38 L543.05,35.81 L543.47,35.31 L543.88,34.88 L544.29,34.52 L544.70,34.21 L545.10,34.03 L545.49,34.14 L545.87,34.30 L546.25,34.53 L546.64,34.84 L547.04,35.23 L547.46,35.71 L547.90,36.29 L548.37,37.00 L548.86,37.85 L549.38,38.91 L549.90,40.08 L550.43,41.29 L550.96,42.50 L551.49,43.67 L552.00,44.77 L552.51,45.88 L553.02,47.05 L553.54,47.89 L554.05,48.71 L554.56,49.46 L555.05,50.09 L555.53,50.54 L556.00,50.79 L556.45,50.80 L556.88,50.64 L557.29,50.33 L557.70,49.89 L558.10,49.34 L558.50,48.72 L558.90,48.05 L559.30,47.35 L559.71,46.52 L560.12,45.47 L560.54,44.22 L560.95,42.93 L561.36,41.68 L561.75,40.53 L562.13,39.57 L562.50,38.87 L562.84,38.40 L563.16,38.23 L563.46,38.31 L563.75,38.53 L564.04,38.85 L564.34,39.30 L564.66,39.85 L565.00,40.50 L565.37,41.29 L565.75,42.24 L566.14,43.26 L566.55,44.24 L566.96,45.29 L567.38,46.39 L567.79,47.50 L568.20,48.60 L568.61,49.75 L569.02,51.00 L569.43,52.32 L569.85,53.65 L570.27,54.97 L570.68,56.22 L571.09,57.37 L571.50,58.33 L571.90,59.21 L572.30,60.05 L572.70,60.84 L573.10,61.55 L573.50,62.16 L573.90,62.64 L574.30,62.96 L574.70,63.10 L575.11,63.18 L575.52,63.09 L575.93,62.85 L576.35,62.49 L576.77,62.00 L577.18,61.42 L577.59,60.74 L578.00,60.00 L578.41,59.05 L578.82,57.95 L579.24,56.74 L579.65,55.44 L580.06,54.09 L580.45,52.70 L580.83,51.30 L581.20,49.93 L581.55,48.54 L581.88,47.08 L582.19,45.59 L582.50,44.07 L582.80,42.58 L583.10,41.12 L583.40,39.72 L583.70,38.42 L584.00,37.19 L584.30,35.81 L584.60,34.47 L584.90,33.19 L585.20,31.97 L585.50,30.83 L585.80,29.78 L586.10,28.83 L586.40,27.98 L586.70,27.20 L587.00,26.51 L587.30,25.90 L587.61,25.38 L587.92,24.93 L588.25,24.57 L588.60,24.30 L588.97,24.41 L589.35,24.64 L589.75,24.97 L590.16,25.39 L590.57,25.88 L590.98,26.41 L591.40,26.98 L591.80,27.56 L592.20,28.19 L592.62,28.90 L593.03,29.68 L593.44,30.65 L593.85,31.62 L594.25,32.59 L594.63,33.52 L595.00,34.40 L595.34,35.19 L595.66,35.92 L595.96,36.60 L596.25,37.27 L596.54,37.98 L596.84,38.73 L597.16,39.52 L597.50,40.37 L597.87,41.34 L598.25,42.40 L598.64,43.54 L599.05,44.74 L599.46,45.97 L599.88,47.23 L600.29,48.49 L600.70,49.73 L601.11,50.98 L601.52,52.26 L601.93,53.57 L602.35,54.89 L602.77,56.20 L603.18,57.50 L603.59,58.77 L604.00,60.00 L604.40,60.89 L604.80,61.81 L605.20,62.73 L605.60,63.61 L606.00,64.45 L606.40,65.20 L606.80,65.85 L607.20,66.47 L607.61,67.05 L608.02,67.53 L608.43,67.92 L608.85,68.22 L609.27,68.44 L609.68,68.61 L610.09,68.73 L610.50,68.82 L610.90,68.82 L611.30,68.72 L611.70,68.54 L612.10,68.32 L612.50,68.08 L612.90,67.86 L613.30,67.82 L613.70,67.91 L614.11,68.05 L614.52,68.20 L614.93,68.36 L615.35,68.56 L615.77,68.79 L616.18,69.09 L616.59,69.45 L617.00,69.90 L617.40,70.45 L617.79,71.12 L618.17,71.85 L618.55,72.62 L618.94,73.42 L619.34,74.21 L619.76,74.96 L620.20,75.65 L620.68,76.32 L621.20,77.02 L621.75,77.73 L622.30,78.41 L622.85,79.03 L623.37,79.57 L623.86,79.99 L624.30,80.22 L624.68,80.32 L625.02,80.38 L625.32,80.35 L625.60,80.23 L625.87,79.99 L626.13,79.62 L626.41,79.08 L626.70,78.37 L627.01,77.42 L627.32,76.24 L627.63,74.88 L627.95,73.38 L628.27,71.82 L628.58,70.24 L628.89,68.69 L629.20,67.23 L629.50,65.80 L629.81,64.34 L630.11,62.87 L630.41,61.40 L630.70,59.96 L631.00,58.56 L631.30,57.22 L631.60,55.98 L631.90,54.80 L632.20,53.55 L632.50,52.29 L632.79,51.07 L633.09,49.91 L633.39,48.80 L633.70,47.75 L634.00,46.74 L634.30,45.77 L634.60,44.80 L634.90,43.87 L635.20,43.01 L635.51,42.22 L635.82,41.54 L636.15,41.00 L636.50,40.60 L636.87,40.78 L637.25,41.18 L637.64,41.75 L638.05,42.41 L638.46,43.14 L638.88,43.85 L639.29,44.51 L639.70,45.06 L640.10,45.48 L640.48,45.75 L640.86,46.00 L641.25,46.23 L641.65,46.45 L642.07,46.64 L642.52,46.82 L643.00,46.99 L643.56,47.14 L644.21,47.28 L644.90,47.40 L645.61,47.50 L646.29,47.59 L646.90,47.67 L647.42,47.73 L647.80,47.79 L647.80,52.80 L647.42,52.77 L646.90,52.74 L646.29,52.70 L645.61,52.65 L644.90,52.59 L644.21,52.51 L643.56,52.42 L643.00,52.30 L642.52,52.16 L642.07,52.01 L641.65,51.84 L641.25,51.66 L640.86,51.45 L640.48,51.22 L640.10,50.97 L639.70,50.70 L639.29,50.34 L638.88,49.87 L638.46,49.34 L638.05,48.81 L637.64,48.32 L637.25,47.94 L636.87,47.72 L636.50,47.70 L636.15,47.86 L635.82,48.18 L635.51,48.64 L635.20,49.21 L634.90,49.87 L634.60,50.59 L634.30,51.35 L634.00,52.12 L633.70,52.92 L633.39,53.76 L633.09,54.66 L632.79,55.62 L632.50,56.63 L632.20,57.69 L631.90,58.81 L631.60,60.02 L631.30,61.31 L631.00,62.68 L630.70,64.12 L630.41,65.60 L630.11,67.11 L629.81,68.62 L629.50,70.11 L629.20,71.58 L628.89,73.08 L628.58,74.66 L628.27,76.29 L627.95,77.89 L627.63,79.42 L627.32,80.82 L627.01,82.05 L626.70,83.03 L626.41,83.78 L626.13,84.35 L625.87,84.76 L625.60,85.03 L625.32,85.19 L625.02,85.25 L624.68,85.24 L624.30,85.18 L623.86,85.06 L623.37,84.88 L622.85,84.61 L622.30,84.26 L621.75,83.85 L621.20,83.42 L620.68,82.98 L620.20,82.55 L619.76,82.08 L619.34,81.54 L618.94,80.95 L618.55,80.35 L618.17,79.77 L617.79,79.20 L617.40,78.69 L617.00,78.30 L616.59,78.02 L616.18,77.82 L615.77,77.69 L615.35,77.62 L614.93,77.59 L614.52,77.59 L614.11,77.61 L613.70,77.63 L613.30,77.70 L612.90,77.83 L612.50,77.95 L612.10,78.09 L611.70,78.22 L611.30,78.30 L610.90,78.30 L610.50,78.19 L610.09,78.01 L609.68,77.78 L609.27,77.51 L608.85,77.18 L608.43,76.78 L608.02,76.29 L607.61,75.71 L607.20,75.02 L606.80,74.11 L606.40,73.00 L606.00,71.78 L605.60,70.48 L605.20,69.13 L604.80,67.75 L604.40,66.37 L604.00,65.00 L603.59,63.86 L603.18,62.68 L602.77,61.47 L602.35,60.24 L601.93,59.01 L601.52,57.79 L601.11,56.60 L600.70,55.44 L600.29,54.28 L599.88,53.11 L599.46,51.94 L599.05,50.80 L598.64,49.69 L598.25,48.63 L597.87,47.65 L597.50,46.76 L597.16,45.99 L596.84,45.31 L596.54,44.70 L596.25,44.15 L595.96,43.62 L595.66,43.09 L595.34,42.52 L595.00,41.90 L594.63,41.21 L594.25,40.47 L593.85,39.70 L593.44,38.93 L593.03,38.17 L592.62,37.49 L592.20,36.87 L591.80,36.34 L591.40,35.85 L590.98,35.37 L590.57,34.93 L590.16,34.54 L589.75,34.21 L589.35,33.97 L588.97,33.82 L588.60,33.80 L588.25,33.77 L587.92,33.85 L587.61,34.01 L587.30,34.27 L587.00,34.62 L586.70,35.05 L586.40,35.57 L586.10,36.16 L585.80,36.84 L585.50,37.63 L585.20,38.51 L584.90,39.47 L584.60,40.50 L584.30,41.57 L584.00,42.69 L583.70,43.90 L583.40,45.17 L583.10,46.54 L582.80,47.98 L582.50,49.45 L582.19,50.94 L581.88,52.41 L581.55,53.84 L581.20,55.20 L580.83,56.54 L580.45,57.90 L580.06,59.26 L579.65,60.58 L579.24,61.85 L578.82,63.02 L578.41,64.08 L578.00,65.00 L577.59,65.93 L577.18,66.79 L576.77,67.56 L576.35,68.24 L575.93,68.79 L575.52,69.22 L575.11,69.49 L574.70,69.60 L574.30,69.29 L573.90,68.81 L573.50,68.17 L573.10,67.41 L572.70,66.53 L572.30,65.58 L571.90,64.57 L571.50,63.54 L571.09,62.40 L570.68,61.19 L570.27,59.89 L569.85,58.53 L569.43,57.16 L569.02,55.81 L568.61,54.51 L568.20,53.32 L567.79,52.18 L567.38,51.02 L566.96,49.89 L566.55,48.79 L566.14,47.77 L565.75,46.87 L565.37,46.11 L565.00,45.50 L564.66,45.02 L564.34,44.62 L564.04,44.33 L563.75,44.15 L563.46,44.09 L563.16,44.15 L562.84,44.35 L562.50,44.70 L562.13,45.28 L561.75,46.11 L561.36,47.13 L560.95,48.25 L560.54,49.40 L560.12,50.51 L559.71,51.50 L559.30,52.30 L558.90,52.97 L558.50,53.62 L558.10,54.21 L557.70,54.73 L557.29,55.14 L556.88,55.42 L556.45,55.55 L556.00,55.50 L555.53,55.23 L555.05,54.73 L554.56,54.07 L554.05,53.29 L553.54,52.43 L553.02,51.55 L552.51,50.69 L552.00,49.90 L551.49,49.12 L550.96,48.27 L550.43,47.39 L549.90,46.52 L549.38,45.68 L548.86,44.91 L548.37,44.24 L547.90,43.70 L547.46,43.29 L547.04,42.97 L546.64,42.73 L546.25,42.56 L545.87,42.47 L545.49,42.45 L545.10,42.50 L544.70,42.60 L544.29,42.76 L543.88,42.96 L543.47,43.23 L543.05,43.58 L542.63,43.99 L542.22,44.50 L541.81,45.10 L541.40,45.80 L540.99,46.69 L540.58,47.86 L540.16,49.16 L539.75,50.53 L539.34,51.89 L538.95,53.17 L538.57,54.28 L538.20,55.17 L537.86,55.82 L537.54,56.34 L537.24,56.74 L536.95,57.03 L536.66,57.22 L536.36,57.31 L536.04,57.30 L535.70,57.20 L535.33,56.94 L534.95,56.48 L534.56,55.90 L534.15,55.23 L533.74,54.57 L533.32,53.97 L532.91,53.44 L532.50,53.05 L532.09,52.79 L531.69,52.62 L531.28,52.50 L530.87,52.40 L530.46,52.26 L530.04,52.12 L529.62,51.94 L529.20,51.70 L528.77,51.41 L528.33,51.08 L527.88,50.73 L527.43,50.36 L526.98,49.99 L526.54,49.61 L526.11,49.25 L525.70,48.87 L525.30,48.45 L524.90,47.98 L524.51,47.48 L524.13,47.00 L523.76,46.57 L523.40,46.23 L523.04,46.02 L522.70,45.97 L522.38,46.07 L522.08,46.29 L521.79,46.61 L521.51,47.03 L521.23,47.54 L520.94,48.14 L520.63,48.84 L520.30,49.60 L519.94,50.50 L519.55,51.58 L519.14,52.78 L518.73,54.04 L518.31,55.30 L517.89,56.50 L517.49,57.59 L517.10,58.50 L516.73,59.39 L516.37,60.26 L516.03,61.07 L515.68,61.78 L515.34,62.41 L515.00,62.92 L514.65,63.32 L514.30,63.44 L513.95,63.30 L513.59,62.99 L513.24,62.54 L512.88,61.99 L512.52,61.38 L512.16,60.72 L511.78,60.05 L511.40,59.41 L511.01,58.76 L510.60,58.14 L510.19,57.48 L509.77,56.80 L509.35,56.11 L508.93,55.43 L508.51,54.77 L508.10,54.16 L507.69,53.58 L507.28,53.03 L506.86,52.49 L506.45,51.97 L506.04,51.45 L505.65,50.94 L505.27,50.42 L504.90,49.90 L504.55,49.42 L504.22,48.97 L503.90,48.54 L503.59,48.09 L503.28,47.62 L502.99,47.09 L502.69,46.50 L502.40,45.80 L502.12,45.03 L501.85,44.21 L501.60,43.34 L501.34,42.41 L501.09,41.40 L500.81,40.32 L500.52,39.16 L500.20,37.90 L499.84,36.47 L499.45,34.85 L499.04,33.10 L498.62,31.29 L498.19,29.50 L497.77,27.79 L497.37,26.23 L497.00,24.90 L496.65,23.80 L496.32,22.83 L496.01,21.98 L495.70,21.22 L495.40,20.55 L495.10,19.96 L494.80,19.43 L494.50,18.96 L494.21,18.52 L493.93,18.13 L493.67,17.80 L493.40,17.55 L493.12,17.39 L492.82,17.33 L492.48,17.40 L492.10,17.60 L491.66,17.89 L491.17,18.33 L490.65,18.89 L490.10,19.55 L489.55,20.28 L489.00,21.05 L488.48,21.84 L488.00,22.61 L487.55,23.44 L487.12,24.37 L486.70,25.37 L486.29,26.39 L485.90,27.38 L485.52,28.29 L485.16,29.07 L484.80,29.70 L484.47,30.15 L484.18,30.46 L483.92,30.65 L483.66,30.76 L483.39,30.82 L483.10,30.86 L482.78,30.91 L482.40,31.00 L481.96,31.10 L481.48,31.17 L480.95,31.21 L480.41,31.25 L479.85,31.30 L479.31,31.38 L478.79,31.51 L478.30,31.70 L477.85,31.97 L477.42,32.32 L477.00,32.72 L476.59,33.14 L476.20,33.57 L475.80,33.97 L475.40,34.32 L475.00,34.60 L474.60,34.80 L474.21,34.93 L473.83,35.02 L473.45,35.08 L473.06,35.13 L472.66,35.19 L472.24,35.28 L471.80,35.40 L471.33,35.55 L470.85,35.72 L470.35,35.89 L469.83,36.07 L469.31,36.28 L468.77,36.50 L468.24,36.74 L467.70,37.00 L467.16,37.34 L466.62,37.77 L466.07,38.26 L465.52,38.74 L464.96,39.19 L464.38,39.54 L463.80,39.76 L463.20,39.80 L462.57,39.61 L461.90,39.23 L461.22,38.70 L460.52,38.09 L459.84,37.44 L459.18,36.83 L458.56,36.29 L458.00,35.90 L457.50,35.60 L457.06,35.31 L456.65,35.07 L456.27,34.87 L455.91,34.74 L455.53,34.69 L455.13,34.74 L454.70,34.90 L454.23,35.20 L453.73,35.62 L453.22,36.14 L452.70,36.75 L452.18,37.41 L451.67,38.11 L451.17,38.81 L450.70,39.50 L450.25,40.24 L449.81,41.09 L449.38,42.03 L448.96,42.97 L448.56,43.88 L448.16,44.71 L447.77,45.42 L447.40,45.96 L447.04,46.34 L446.68,46.59 L446.34,46.73 L446.01,46.79 L445.69,46.78 L445.38,46.72 L445.08,46.63 L444.80,46.50 L444.54,46.34 L444.31,46.13 L444.09,45.87 L443.88,45.57 L443.68,45.23 L443.47,44.85 L443.24,44.44 L443.00,44.00 L442.73,43.49 L442.45,42.91 L442.16,42.27 L441.86,41.60 L441.56,40.93 L441.26,40.29 L440.97,39.71 L440.70,39.23 L440.44,38.83 L440.20,38.48 L439.97,38.16 L439.74,37.88 L439.51,37.62 L439.28,37.39 L439.04,37.17 L438.80,36.96 L438.55,36.74 L438.30,36.52 L438.05,36.32 L437.80,36.13 L437.54,35.99 L437.27,35.89 L436.99,35.86 L436.70,35.90 L436.39,35.99 L436.07,36.14 L435.74,36.35 L435.41,36.61 L435.06,36.92 L434.71,37.25 L434.36,37.62 L434.00,38.00 L433.64,38.47 L433.28,39.06 L432.92,39.73 L432.55,40.41 L432.17,41.04 L431.79,41.57 L431.40,41.94 L431.00,42.10 L430.59,42.02 L430.17,41.76 L429.74,41.35 L429.30,40.84 L428.86,40.25 L428.41,39.64 L427.96,39.05 L427.50,38.50 L427.04,37.98 L426.56,37.44 L426.07,36.88 L425.58,36.31 L425.09,35.73 L424.61,35.15 L424.15,34.57 L423.70,34.00 L423.26,33.42 L422.83,32.82 L422.41,32.20 L422.00,31.59 L421.60,31.00 L421.22,30.45 L420.85,29.94 L420.50,29.50 L420.18,29.08 L419.88,28.65 L419.61,28.24 L419.34,27.88 L419.09,27.59 L418.83,27.41 L418.57,27.37 L418.30,27.50 L418.02,27.85 L417.73,28.35 L417.44,28.98 L417.14,29.72 L416.85,30.56 L416.56,31.47 L416.28,32.43 L416.00,33.44 L415.73,34.52 L415.47,35.68 L415.21,36.93 L414.96,38.24 L414.70,39.60 L414.44,41.00 L414.18,42.42 L413.90,43.85 L413.61,45.34 L413.31,46.95 L413.00,48.66 L412.69,50.48 L412.38,52.27 L412.07,53.98 L411.78,55.58 L411.50,57.00 L411.25,58.81 L411.02,60.46 L410.80,61.97 L410.59,63.39 L410.37,64.75 L410.14,66.08 L409.89,67.43 L409.60,68.82 L409.28,70.26 L408.93,71.54 L408.56,72.05 L408.18,72.51 L407.79,72.91 L407.39,73.24 L406.99,73.50 L406.60,73.70 L406.22,73.79 L405.84,73.76 L405.45,73.65 L405.07,73.48 L404.67,73.24 L404.27,73.00 L403.84,72.79 L403.40,72.66 L402.93,72.62 L402.44,72.63 L401.93,72.68 L401.41,72.74 L400.88,72.79 L400.35,72.79 L399.82,72.73 L399.30,72.58 L398.79,72.34 L398.29,72.03 L397.79,71.67 L397.29,71.26 L396.79,70.81 L396.27,70.35 L395.75,69.87 L395.20,69.40 L394.63,68.58 L394.03,67.70 L393.41,66.77 L392.79,65.84 L392.16,64.91 L391.55,64.00 L390.96,63.16 L390.40,62.38 L389.87,61.69 L389.36,61.06 L388.87,60.48 L388.39,60.08 L387.92,59.76 L387.45,59.45 L386.98,59.14 L386.50,58.80 L385.99,58.43 L385.43,58.03 L384.87,57.63 L384.31,57.23 L383.78,56.84 L383.30,56.50 L382.90,56.22 L382.60,56.00Z" fill="#d0d0d0" stroke="none"/>
<line x1="382.6" y1="35.4" x2="648.6" y2="58.4" stroke="#ee3333" stroke-width="1.25" stroke-dasharray="7,2.4"/>
<path d="M382.60,45.00 C383.25,45.47 385.20,46.87 386.50,47.80 C387.80,48.73 388.95,49.33 390.40,50.60 C391.85,51.87 393.72,54.00 395.20,55.40 C396.68,56.80 397.93,58.32 399.30,59.00 C400.67,59.68 402.18,59.15 403.40,59.50 C404.62,59.85 405.57,61.27 406.60,61.10 C407.63,60.93 408.78,60.02 409.60,58.50 C410.42,56.98 410.78,55.08 411.50,52.00 C412.22,48.92 413.15,43.67 413.90,40.00 C414.65,36.33 415.27,32.58 416.00,30.00 C416.73,27.42 417.55,25.08 418.30,24.50 C419.05,23.92 419.60,25.42 420.50,26.50 C421.40,27.58 422.53,29.50 423.70,31.00 C424.87,32.50 426.28,34.15 427.50,35.50 C428.72,36.85 429.92,39.18 431.00,39.10 C432.08,39.02 433.05,36.03 434.00,35.00 C434.95,33.97 435.90,33.03 436.70,32.90 C437.50,32.77 438.13,33.57 438.80,34.20 C439.47,34.83 440.00,35.48 440.70,36.70 C441.40,37.92 442.32,40.28 443.00,41.50 C443.68,42.72 444.07,43.63 444.80,44.00 C445.53,44.37 446.42,44.78 447.40,43.70 C448.38,42.62 449.48,39.30 450.70,37.50 C451.92,35.70 453.48,33.50 454.70,32.90 C455.92,32.30 456.58,33.08 458.00,33.90 C459.42,34.72 461.58,37.62 463.20,37.80 C464.82,37.98 466.27,35.73 467.70,35.00 C469.13,34.27 470.58,33.80 471.80,33.40 C473.02,33.00 473.92,33.22 475.00,32.60 C476.08,31.98 477.07,30.30 478.30,29.70 C479.53,29.10 481.32,29.33 482.40,29.00 C483.48,28.67 483.87,29.13 484.80,27.70 C485.73,26.27 486.78,22.50 488.00,20.40 C489.22,18.30 491.02,15.72 492.10,15.10 C493.18,14.48 493.68,15.40 494.50,16.70 C495.32,18.00 496.05,19.70 497.00,22.90 C497.95,26.10 499.30,32.42 500.20,35.90 C501.10,39.38 501.62,41.80 502.40,43.80 C503.18,45.80 503.95,46.55 504.90,47.90 C505.85,49.25 507.02,50.42 508.10,51.90 C509.18,53.38 510.37,55.45 511.40,56.80 C512.43,58.15 513.35,60.13 514.30,60.00 C515.25,59.87 516.10,58.15 517.10,56.00 C518.10,53.85 519.37,49.22 520.30,47.10 C521.23,44.98 521.80,43.50 522.70,43.30 C523.60,43.10 524.62,45.00 525.70,45.90 C526.78,46.80 528.07,47.97 529.20,48.70 C530.33,49.43 531.42,49.30 532.50,50.30 C533.58,51.30 534.75,54.30 535.70,54.70 C536.65,55.10 537.25,54.52 538.20,52.70 C539.15,50.88 540.32,45.82 541.40,43.80 C542.48,41.78 543.62,40.95 544.70,40.60 C545.78,40.25 546.68,40.48 547.90,41.70 C549.12,42.92 550.65,45.93 552.00,47.90 C553.35,49.87 554.78,53.10 556.00,53.50 C557.22,53.90 558.22,52.10 559.30,50.30 C560.38,48.50 561.55,43.83 562.50,42.70 C563.45,41.57 564.05,42.10 565.00,43.50 C565.95,44.90 567.12,48.20 568.20,51.10 C569.28,54.00 570.42,58.40 571.50,60.90 C572.58,63.40 573.62,65.83 574.70,66.10 C575.78,66.37 576.92,64.73 578.00,62.50 C579.08,60.27 580.25,56.22 581.20,52.70 C582.15,49.18 582.88,44.65 583.70,41.40 C584.52,38.15 585.28,35.05 586.10,33.20 C586.92,31.35 587.65,30.30 588.60,30.30 C589.55,30.30 590.73,31.77 591.80,33.20 C592.87,34.63 594.05,37.13 595.00,38.90 C595.95,40.67 596.55,41.50 597.50,43.80 C598.45,46.10 599.62,49.58 600.70,52.70 C601.78,55.82 602.92,59.45 604.00,62.50 C605.08,65.55 606.12,69.10 607.20,71.00 C608.28,72.90 609.42,73.53 610.50,73.90 C611.58,74.27 612.62,73.15 613.70,73.20 C614.78,73.25 615.92,73.22 617.00,74.20 C618.08,75.18 618.98,77.68 620.20,79.10 C621.42,80.52 623.22,82.43 624.30,82.70 C625.38,82.97 625.88,82.92 626.70,80.70 C627.52,78.48 628.38,73.18 629.20,69.40 C630.02,65.62 630.80,61.25 631.60,58.00 C632.40,54.75 633.18,52.03 634.00,49.90 C634.82,47.77 635.55,45.48 636.50,45.20 C637.45,44.92 638.62,47.43 639.70,48.20 C640.78,48.97 641.65,49.45 643.00,49.80 C644.35,50.15 647.00,50.22 647.80,50.30" fill="none" stroke="#4472c4" stroke-width="1.35" stroke-linejoin="round"/>
</g>
<line x1="379.60" y1="46.60" x2="648.60" y2="46.60" stroke="#333" stroke-width="1.1" />
<rect x="379.6" y="6.4" width="269.00" height="81.00" fill="none" stroke="#595959" stroke-width="1"/>
<line x1="377.20" y1="6.25" x2="379.60" y2="6.25" stroke="#595959" stroke-width="1" />
<text transform="translate(361.51 9.89) scale(1 1.171)" font-size="9.78" fill="#1a1a1a">20</text>
<line x1="377.20" y1="26.50" x2="379.60" y2="26.50" stroke="#595959" stroke-width="1" />
<text transform="translate(361.51 30.14) scale(1 1.171)" font-size="9.78" fill="#1a1a1a">10</text>
<line x1="377.20" y1="46.75" x2="379.60" y2="46.75" stroke="#595959" stroke-width="1" />
<text transform="translate(366.94 50.39) scale(1 1.171)" font-size="9.78" fill="#1a1a1a">0</text>
<line x1="377.20" y1="67.00" x2="379.60" y2="67.00" stroke="#595959" stroke-width="1" />
<text transform="translate(358.23 70.64) scale(1 1.171)" font-size="9.78" fill="#1a1a1a">-10</text>
<line x1="377.20" y1="87.25" x2="379.60" y2="87.25" stroke="#595959" stroke-width="1" />
<text transform="translate(358.23 90.89) scale(1 1.171)" font-size="9.78" fill="#1a1a1a">-20</text>
<line x1="379.50" y1="87.40" x2="379.50" y2="89.70" stroke="#595959" stroke-width="1" />
<line x1="391.47" y1="87.40" x2="391.47" y2="89.70" stroke="#595959" stroke-width="1" />
<line x1="403.44" y1="87.40" x2="403.44" y2="89.70" stroke="#595959" stroke-width="1" />
<line x1="415.41" y1="87.40" x2="415.41" y2="89.70" stroke="#595959" stroke-width="1" />
<line x1="427.38" y1="87.40" x2="427.38" y2="89.70" stroke="#595959" stroke-width="1" />
<line x1="439.35" y1="87.40" x2="439.35" y2="89.70" stroke="#595959" stroke-width="1" />
<line x1="451.32" y1="87.40" x2="451.32" y2="89.70" stroke="#595959" stroke-width="1" />
<line x1="463.29" y1="87.40" x2="463.29" y2="89.70" stroke="#595959" stroke-width="1" />
<line x1="475.26" y1="87.40" x2="475.26" y2="89.70" stroke="#595959" stroke-width="1" />
<line x1="487.23" y1="87.40" x2="487.23" y2="89.70" stroke="#595959" stroke-width="1" />
<line x1="499.20" y1="87.40" x2="499.20" y2="89.70" stroke="#595959" stroke-width="1" />
<line x1="511.17" y1="87.40" x2="511.17" y2="89.70" stroke="#595959" stroke-width="1" />
<line x1="523.14" y1="87.40" x2="523.14" y2="89.70" stroke="#595959" stroke-width="1" />
<line x1="535.11" y1="87.40" x2="535.11" y2="89.70" stroke="#595959" stroke-width="1" />
<line x1="547.08" y1="87.40" x2="547.08" y2="89.70" stroke="#595959" stroke-width="1" />
<line x1="559.05" y1="87.40" x2="559.05" y2="89.70" stroke="#595959" stroke-width="1" />
<line x1="571.02" y1="87.40" x2="571.02" y2="89.70" stroke="#595959" stroke-width="1" />
<line x1="582.99" y1="87.40" x2="582.99" y2="89.70" stroke="#595959" stroke-width="1" />
<line x1="594.96" y1="87.40" x2="594.96" y2="89.70" stroke="#595959" stroke-width="1" />
<line x1="606.93" y1="87.40" x2="606.93" y2="89.70" stroke="#595959" stroke-width="1" />
<line x1="618.90" y1="87.40" x2="618.90" y2="89.70" stroke="#595959" stroke-width="1" />
<line x1="630.87" y1="87.40" x2="630.87" y2="89.70" stroke="#595959" stroke-width="1" />
<line x1="642.84" y1="87.40" x2="642.84" y2="89.70" stroke="#595959" stroke-width="1" />
<line x1="648.60" y1="16.90" x2="651.00" y2="16.90" stroke="#595959" stroke-width="1" />
<text transform="translate(658.72 20.68) scale(1 1.264)" font-size="9.39" fill="#1a1a1a">50</text>
<line x1="648.60" y1="31.70" x2="651.00" y2="31.70" stroke="#595959" stroke-width="1" />
<text transform="translate(658.63 35.48) scale(1 1.264)" font-size="9.39" fill="#1a1a1a">25</text>
<line x1="648.60" y1="46.50" x2="651.00" y2="46.50" stroke="#595959" stroke-width="1" />
<text transform="translate(658.72 50.28) scale(1 1.264)" font-size="9.39" fill="#1a1a1a">0</text>
<line x1="648.60" y1="61.30" x2="651.00" y2="61.30" stroke="#595959" stroke-width="1" />
<text transform="translate(655.50 65.08) scale(1 1.264)" font-size="9.39" fill="#1a1a1a">-25</text>
<line x1="648.60" y1="76.10" x2="651.00" y2="76.10" stroke="#595959" stroke-width="1" />
<text transform="translate(655.60 79.88) scale(1 1.264)" font-size="9.39" fill="#1a1a1a">-50</text>
<text transform="translate(615.77 20.68) scale(1 1.269)" font-size="9.46" fill="#1a1a1a">UCRB</text>
<text transform="translate(357.25 81.71) scale(1 1.171) rotate(-90)" font-size="9.75" fill="#1a1a1a">TWSA (km<tspan font-size="6.04" dy="-3.90">3</tspan><tspan dy="3.90">)</tspan></text>
<text transform="translate(680.25 77.90) scale(1 1.254) rotate(-90)" font-size="9.02" fill="#1a1a1a">TWSA (mm)</text>
<text transform="translate(345.90 12.80) scale(1 1.050)" font-size="9.80" fill="#1a1a1a">c)</text>
<g clip-path="url(#clipAC)">
<rect x="379.6" y="98.5" width="272.80" height="28.90" fill="#dae3f6"/>
<path d="M379.60,127.4 L379.60,98.50 L380.30,98.50 L381.80,98.50 L383.50,98.50 L384.60,98.50 L385.10,98.50 L385.60,98.50 L386.20,98.50 L386.80,98.50 L387.50,98.50 L388.20,98.50 L389.00,98.50 L389.70,98.50 L390.50,98.50 L391.30,98.50 L393.00,98.50 L394.70,98.50 L396.90,98.50 L399.20,98.50 L401.40,98.50 L403.10,98.50 L404.20,98.50 L405.90,98.50 L408.10,98.79 L410.40,98.50 L412.60,98.50 L414.80,98.50 L416.50,98.50 L417.60,100.52 L418.80,106.30 L420.40,109.77 L423.80,112.08 L427.20,113.24 L429.40,109.77 L431.60,108.62 L433.90,103.41 L435.00,102.84 L436.70,108.62 L438.40,113.24 L440.00,115.55 L441.70,101.68 L444.00,99.94 L446.20,100.52 L448.40,101.10 L449.50,102.84 L451.20,107.46 L452.80,110.93 L454.00,115.55 L455.60,118.15 L457.90,121.62 L460.10,118.73 L461.80,117.57 L462.90,105.15 L464.00,113.24 L465.20,116.71 L467.40,112.08 L468.50,108.62 L469.60,119.89 L470.80,126.24 L472.40,117.57 L473.60,108.62 L474.70,114.40 L476.40,105.15 L478.00,100.52 L479.70,109.77 L482.00,112.08 L484.20,113.24 L486.40,115.55 L488.10,123.35 L489.80,123.93 L492.00,121.04 L494.30,119.89 L496.50,121.04 L498.80,124.51 L500.40,123.35 L501.60,106.30 L503.20,102.84 L504.90,98.50 L505.60,98.50 L506.60,98.50 L507.30,98.50 L508.80,98.50 L510.00,98.50 L511.10,98.50 L513.30,98.50 L515.40,98.50 L516.30,98.50 L517.00,98.50 L518.00,98.50 L520.40,98.50 L521.50,98.50 L522.60,98.79 L524.30,99.37 L526.00,100.52 L527.70,107.46 L529.90,109.77 L532.20,108.62 L534.40,114.40 L536.60,117.57 L538.30,100.52 L540.00,99.37 L541.30,99.37 L542.80,100.52 L544.50,109.77 L546.70,108.62 L549.00,116.71 L550.60,115.55 L552.30,113.24 L554.00,117.57 L555.70,110.93 L557.40,114.40 L559.00,108.62 L560.70,107.46 L562.40,126.24 L564.60,125.67 L566.90,119.89 L568.60,114.40 L570.20,109.77 L572.50,102.84 L574.20,100.52 L575.80,101.68 L578.10,99.94 L580.30,98.79 L581.20,98.50 L583.50,98.50 L585.20,98.50 L586.80,99.37 L588.00,116.71 L589.10,123.35 L590.80,125.67 L592.40,124.51 L594.10,119.89 L595.80,103.99 L596.90,101.68 L599.20,101.68 L601.40,108.62 L603.10,107.46 L604.80,100.52 L606.40,98.79 L608.10,98.50 L609.80,98.50 L611.50,98.50 L613.20,98.50 L614.80,98.50 L616.50,98.50 L618.20,98.50 L619.90,98.50 L621.60,98.50 L623.20,98.50 L624.90,98.50 L626.60,98.50 L628.30,98.50 L630.00,98.79 L631.60,101.68 L633.90,106.30 L635.60,117.57 L637.20,119.89 L638.90,115.55 L640.60,114.40 L642.30,110.93 L644.50,108.62 L646.20,106.30 L648.60,111.50 L650.50,112.95 L652.40,113.53 L652.40,127.4 Z" fill="#f0fa3c"/>
<path d="M379.60,127.4 L379.60,125.67 L380.30,125.67 L381.80,99.94 L383.50,99.37 L384.60,99.08 L385.10,98.79 L385.60,98.50 L386.20,98.50 L386.80,98.50 L387.50,98.50 L388.20,98.50 L389.00,98.79 L389.70,98.79 L390.50,98.79 L391.30,98.79 L393.00,98.79 L394.70,98.50 L396.90,98.79 L399.20,99.37 L401.40,99.37 L403.10,99.37 L404.20,99.94 L405.90,100.52 L408.10,101.68 L410.40,102.26 L412.60,102.84 L414.80,102.84 L416.50,108.62 L417.60,117.57 L418.80,119.89 L420.40,121.04 L423.80,121.62 L427.20,122.78 L429.40,119.89 L431.60,118.73 L433.90,108.62 L435.00,106.30 L436.70,114.40 L438.40,119.89 L440.00,123.35 L441.70,112.08 L444.00,103.99 L446.20,105.15 L448.40,102.84 L449.50,109.77 L451.20,113.24 L452.80,119.89 L454.00,121.62 L455.60,122.78 L457.90,123.35 L460.10,123.93 L461.80,124.51 L462.90,124.51 L464.00,125.09 L465.20,125.67 L467.40,126.24 L468.50,126.53 L469.60,126.82 L470.80,127.11 L472.40,126.82 L473.60,124.51 L474.70,123.35 L476.40,118.73 L478.00,117.57 L479.70,121.04 L482.00,121.62 L484.20,123.35 L486.40,124.51 L488.10,125.67 L489.80,126.24 L492.00,125.09 L494.30,123.35 L496.50,122.78 L498.80,125.96 L500.40,125.67 L501.60,119.89 L503.20,113.24 L504.90,99.37 L505.60,98.79 L506.60,98.50 L507.30,98.50 L508.80,98.50 L510.00,98.50 L511.10,98.50 L513.30,98.79 L515.40,98.79 L516.30,98.79 L517.00,98.79 L518.00,98.79 L520.40,98.79 L521.50,99.37 L522.60,119.89 L524.30,122.20 L526.00,119.89 L527.70,117.57 L529.90,117.57 L532.20,113.24 L534.40,118.73 L536.60,118.73 L538.30,119.89 L540.00,101.68 L541.30,101.68 L542.80,109.77 L544.50,123.35 L546.70,124.51 L549.00,125.09 L550.60,125.96 L552.30,126.24 L554.00,126.53 L555.70,126.53 L557.40,126.53 L559.00,126.53 L560.70,126.53 L562.40,127.11 L564.60,127.11 L566.90,126.53 L568.60,124.51 L570.20,122.20 L572.50,119.89 L574.20,106.30 L575.80,106.30 L578.10,105.15 L580.30,102.84 L581.20,100.52 L583.50,100.52 L585.20,100.52 L586.80,112.08 L588.00,119.89 L589.10,124.51 L590.80,125.67 L592.40,126.24 L594.10,123.35 L595.80,108.62 L596.90,106.30 L599.20,109.77 L601.40,110.93 L603.10,109.77 L604.80,101.68 L606.40,99.37 L608.10,98.79 L609.80,98.79 L611.50,98.79 L613.20,98.79 L614.80,98.79 L616.50,98.79 L618.20,99.37 L619.90,100.52 L621.60,99.37 L623.20,101.68 L624.90,103.99 L626.60,102.84 L628.30,103.99 L630.00,106.30 L631.60,108.62 L633.90,114.40 L635.60,122.20 L637.20,124.51 L638.90,124.51 L640.60,123.35 L642.30,119.89 L644.50,116.71 L646.20,117.57 L648.60,121.62 L650.50,125.09 L652.40,125.09 L652.40,127.4 Z" fill="#e5a94c"/>
<path d="M379.60,127.4 L379.60,126.24 L380.30,126.24 L381.80,112.95 L383.50,102.84 L384.60,100.81 L385.10,99.94 L385.60,99.08 L386.20,98.79 L386.80,98.79 L387.50,98.79 L388.20,98.79 L389.00,99.08 L389.70,99.37 L390.50,99.94 L391.30,99.37 L393.00,99.37 L394.70,99.37 L396.90,99.94 L399.20,100.52 L401.40,101.10 L403.10,101.68 L404.20,102.84 L405.90,103.99 L408.10,106.30 L410.40,105.15 L412.60,106.30 L414.80,107.46 L416.50,119.89 L417.60,121.62 L418.80,123.35 L420.40,123.93 L423.80,124.51 L427.20,125.09 L429.40,124.51 L431.60,124.51 L433.90,122.20 L435.00,118.73 L436.70,123.35 L438.40,125.09 L440.00,125.67 L441.70,122.20 L444.00,119.89 L446.20,116.71 L448.40,118.73 L449.50,119.89 L451.20,121.04 L452.80,122.20 L454.00,123.35 L455.60,124.51 L457.90,125.09 L460.10,125.38 L461.80,125.67 L462.90,125.96 L464.00,126.24 L465.20,126.82 L467.40,127.11 L468.50,127.11 L469.60,127.40 L470.80,127.40 L472.40,127.40 L473.60,125.67 L474.70,125.09 L476.40,123.35 L478.00,122.20 L479.70,123.93 L482.00,124.51 L484.20,125.67 L486.40,126.53 L488.10,126.82 L489.80,127.11 L492.00,127.11 L494.30,126.82 L496.50,126.82 L498.80,127.11 L500.40,127.11 L501.60,124.51 L503.20,122.20 L504.90,103.99 L505.60,99.94 L506.60,99.37 L507.30,99.37 L508.80,99.37 L510.00,99.37 L511.10,99.37 L513.30,101.97 L515.40,105.15 L516.30,104.86 L517.00,104.28 L518.00,103.99 L520.40,102.84 L521.50,110.93 L522.60,123.35 L524.30,124.51 L526.00,124.51 L527.70,123.35 L529.90,122.20 L532.20,119.89 L534.40,122.20 L536.60,122.20 L538.30,123.35 L540.00,108.62 L541.30,103.99 L542.80,123.35 L544.50,124.51 L546.70,126.53 L549.00,127.11 L550.60,127.11 L552.30,127.40 L554.00,127.40 L555.70,127.40 L557.40,127.40 L559.00,127.40 L560.70,127.40 L562.40,127.40 L564.60,127.40 L566.90,127.40 L568.60,127.40 L570.20,126.53 L572.50,124.51 L574.20,109.77 L575.80,108.62 L578.10,107.46 L580.30,106.30 L581.20,102.84 L583.50,103.99 L585.20,106.30 L586.80,119.89 L588.00,124.51 L589.10,126.53 L590.80,127.11 L592.40,127.11 L594.10,126.53 L595.80,119.89 L596.90,112.08 L599.20,117.57 L601.40,119.89 L603.10,117.57 L604.80,106.30 L606.40,101.68 L608.10,100.52 L609.80,99.94 L611.50,100.52 L613.20,100.52 L614.80,100.52 L616.50,101.68 L618.20,102.84 L619.90,106.30 L621.60,108.62 L623.20,106.30 L624.90,107.46 L626.60,108.62 L628.30,114.40 L630.00,117.57 L631.60,119.89 L633.90,122.20 L635.60,125.09 L637.20,126.24 L638.90,126.24 L640.60,125.67 L642.30,124.51 L644.50,123.35 L646.20,124.51 L648.60,125.67 L650.50,126.24 L652.40,126.24 L652.40,127.4 Z" fill="#f08224"/>
<path d="M379.60,127.4 L379.60,126.82 L380.30,126.82 L381.80,126.53 L383.50,124.51 L384.60,118.73 L385.10,107.17 L385.60,99.94 L386.20,99.08 L386.80,99.08 L387.50,99.08 L388.20,99.37 L389.00,99.94 L389.70,101.97 L390.50,104.28 L391.30,105.72 L393.00,101.97 L394.70,102.55 L396.90,103.70 L399.20,104.28 L401.40,105.15 L403.10,109.77 L404.20,114.40 L405.90,113.82 L408.10,116.71 L410.40,115.55 L412.60,114.40 L414.80,119.89 L416.50,126.24 L417.60,126.82 L418.80,127.11 L420.40,127.11 L423.80,127.40 L427.20,127.40 L429.40,127.40 L431.60,127.40 L433.90,127.40 L435.00,127.40 L436.70,127.40 L438.40,127.40 L440.00,127.40 L441.70,127.40 L444.00,126.24 L446.20,125.67 L448.40,125.09 L449.50,126.53 L451.20,127.40 L452.80,127.40 L454.00,127.40 L455.60,127.40 L457.90,127.40 L460.10,127.40 L461.80,127.40 L462.90,127.40 L464.00,127.40 L465.20,127.40 L467.40,127.40 L468.50,127.40 L469.60,127.40 L470.80,127.40 L472.40,127.40 L473.60,127.40 L474.70,127.40 L476.40,126.24 L478.00,126.82 L479.70,127.11 L482.00,127.40 L484.20,127.40 L486.40,127.40 L488.10,127.40 L489.80,127.40 L492.00,127.40 L494.30,127.40 L496.50,127.40 L498.80,127.40 L500.40,127.40 L501.60,127.40 L503.20,127.40 L504.90,118.73 L505.60,109.48 L506.60,107.75 L507.30,107.46 L508.80,109.48 L510.00,113.53 L511.10,114.40 L513.30,114.97 L515.40,116.42 L516.30,121.62 L517.00,125.67 L518.00,118.73 L520.40,118.15 L521.50,125.96 L522.60,127.11 L524.30,127.11 L526.00,127.11 L527.70,126.82 L529.90,126.53 L532.20,125.09 L534.40,126.24 L536.60,126.82 L538.30,127.11 L540.00,127.11 L541.30,127.11 L542.80,127.11 L544.50,127.40 L546.70,127.40 L549.00,127.40 L550.60,127.40 L552.30,127.40 L554.00,127.40 L555.70,127.40 L557.40,127.40 L559.00,127.40 L560.70,127.40 L562.40,127.40 L564.60,127.40 L566.90,127.40 L568.60,127.40 L570.20,127.40 L572.50,126.53 L574.20,117.57 L575.80,114.40 L578.10,110.93 L580.30,107.46 L581.20,106.30 L583.50,112.08 L585.20,119.89 L586.80,123.93 L588.00,126.53 L589.10,127.40 L590.80,127.40 L592.40,127.40 L594.10,127.40 L595.80,127.40 L596.90,126.82 L599.20,124.51 L601.40,123.35 L603.10,122.78 L604.80,115.55 L606.40,103.99 L608.10,102.84 L609.80,103.70 L611.50,106.59 L613.20,106.30 L614.80,103.99 L616.50,106.30 L618.20,110.93 L619.90,115.55 L621.60,119.89 L623.20,121.04 L624.90,122.20 L626.60,117.57 L628.30,123.35 L630.00,125.09 L631.60,125.67 L633.90,126.53 L635.60,127.11 L637.20,127.40 L638.90,127.40 L640.60,127.11 L642.30,126.24 L644.50,125.67 L646.20,126.53 L648.60,126.82 L650.50,127.11 L652.40,127.11 L652.40,127.4 Z" fill="#ff2a14"/>
<path d="M379.60,127.4 L379.60,127.40 L380.30,127.40 L381.80,127.40 L383.50,127.40 L384.60,127.40 L385.10,127.40 L385.60,117.28 L386.20,106.59 L386.80,105.72 L387.50,109.48 L388.20,113.53 L389.00,118.73 L389.70,121.62 L390.50,123.06 L391.30,123.35 L393.00,123.35 L394.70,122.78 L396.90,124.51 L399.20,124.51 L401.40,125.67 L403.10,126.24 L404.20,127.40 L405.90,127.40 L408.10,127.40 L410.40,127.40 L412.60,127.40 L414.80,127.40 L416.50,127.40 L417.60,127.40 L418.80,127.40 L420.40,127.40 L423.80,127.40 L427.20,127.40 L429.40,127.40 L431.60,127.40 L433.90,127.40 L435.00,127.40 L436.70,127.40 L438.40,127.40 L440.00,127.40 L441.70,127.40 L444.00,127.40 L446.20,127.40 L448.40,127.40 L449.50,127.40 L451.20,127.40 L452.80,127.40 L454.00,127.40 L455.60,127.40 L457.90,127.40 L460.10,127.40 L461.80,127.40 L462.90,127.40 L464.00,127.40 L465.20,127.40 L467.40,127.40 L468.50,127.40 L469.60,127.40 L470.80,127.40 L472.40,127.40 L473.60,127.40 L474.70,127.40 L476.40,127.40 L478.00,127.40 L479.70,127.40 L482.00,127.40 L484.20,127.40 L486.40,127.40 L488.10,127.40 L489.80,127.40 L492.00,127.40 L494.30,127.40 L496.50,127.40 L498.80,127.40 L500.40,127.40 L501.60,127.40 L503.20,127.40 L504.90,127.40 L505.60,127.40 L506.60,127.40 L507.30,127.40 L508.80,127.40 L510.00,127.40 L511.10,127.40 L513.30,127.40 L515.40,127.40 L516.30,127.40 L517.00,127.40 L518.00,127.40 L520.40,127.40 L521.50,127.40 L522.60,127.40 L524.30,127.40 L526.00,127.40 L527.70,127.40 L529.90,127.40 L532.20,127.40 L534.40,127.40 L536.60,127.40 L538.30,127.40 L540.00,127.40 L541.30,127.40 L542.80,127.40 L544.50,127.40 L546.70,127.40 L549.00,127.40 L550.60,127.40 L552.30,127.40 L554.00,127.40 L555.70,127.40 L557.40,127.40 L559.00,127.40 L560.70,127.40 L562.40,127.40 L564.60,127.40 L566.90,127.40 L568.60,127.40 L570.20,127.40 L572.50,127.40 L574.20,123.35 L575.80,122.20 L578.10,121.04 L580.30,121.04 L581.20,120.46 L583.50,120.46 L585.20,123.35 L586.80,127.40 L588.00,127.40 L589.10,127.40 L590.80,127.40 L592.40,127.40 L594.10,127.40 L595.80,127.40 L596.90,127.40 L599.20,127.40 L601.40,127.40 L603.10,127.40 L604.80,127.40 L606.40,126.24 L608.10,116.42 L609.80,110.93 L611.50,112.95 L613.20,115.55 L614.80,116.13 L616.50,117.57 L618.20,122.78 L619.90,126.24 L621.60,127.40 L623.20,127.40 L624.90,127.40 L626.60,127.40 L628.30,127.40 L630.00,127.40 L631.60,127.40 L633.90,127.40 L635.60,127.40 L637.20,127.40 L638.90,127.40 L640.60,127.40 L642.30,127.40 L644.50,127.40 L646.20,127.40 L648.60,127.40 L650.50,127.40 L652.40,127.40 L652.40,127.4 Z" fill="#7b3539"/>
<line x1="391.62" y1="98.5" x2="391.62" y2="127.4" stroke="#808080" stroke-opacity="0.45" stroke-width="0.8"/>
<line x1="403.74" y1="98.5" x2="403.74" y2="127.4" stroke="#808080" stroke-opacity="0.45" stroke-width="0.8"/>
<line x1="415.86" y1="98.5" x2="415.86" y2="127.4" stroke="#808080" stroke-opacity="0.45" stroke-width="0.8"/>
<line x1="427.98" y1="98.5" x2="427.98" y2="127.4" stroke="#808080" stroke-opacity="0.45" stroke-width="0.8"/>
<line x1="440.10" y1="98.5" x2="440.10" y2="127.4" stroke="#808080" stroke-opacity="0.45" stroke-width="0.8"/>
<line x1="452.22" y1="98.5" x2="452.22" y2="127.4" stroke="#808080" stroke-opacity="0.45" stroke-width="0.8"/>
<line x1="464.34" y1="98.5" x2="464.34" y2="127.4" stroke="#808080" stroke-opacity="0.45" stroke-width="0.8"/>
<line x1="476.46" y1="98.5" x2="476.46" y2="127.4" stroke="#808080" stroke-opacity="0.45" stroke-width="0.8"/>
<line x1="488.58" y1="98.5" x2="488.58" y2="127.4" stroke="#808080" stroke-opacity="0.45" stroke-width="0.8"/>
<line x1="500.70" y1="98.5" x2="500.70" y2="127.4" stroke="#808080" stroke-opacity="0.45" stroke-width="0.8"/>
<line x1="512.82" y1="98.5" x2="512.82" y2="127.4" stroke="#808080" stroke-opacity="0.45" stroke-width="0.8"/>
<line x1="524.94" y1="98.5" x2="524.94" y2="127.4" stroke="#808080" stroke-opacity="0.45" stroke-width="0.8"/>
<line x1="537.06" y1="98.5" x2="537.06" y2="127.4" stroke="#808080" stroke-opacity="0.45" stroke-width="0.8"/>
<line x1="549.18" y1="98.5" x2="549.18" y2="127.4" stroke="#808080" stroke-opacity="0.45" stroke-width="0.8"/>
<line x1="561.30" y1="98.5" x2="561.30" y2="127.4" stroke="#808080" stroke-opacity="0.45" stroke-width="0.8"/>
<line x1="573.42" y1="98.5" x2="573.42" y2="127.4" stroke="#808080" stroke-opacity="0.45" stroke-width="0.8"/>
<line x1="585.54" y1="98.5" x2="585.54" y2="127.4" stroke="#808080" stroke-opacity="0.45" stroke-width="0.8"/>
<line x1="597.66" y1="98.5" x2="597.66" y2="127.4" stroke="#808080" stroke-opacity="0.45" stroke-width="0.8"/>
<line x1="609.78" y1="98.5" x2="609.78" y2="127.4" stroke="#808080" stroke-opacity="0.45" stroke-width="0.8"/>
<line x1="621.90" y1="98.5" x2="621.90" y2="127.4" stroke="#808080" stroke-opacity="0.45" stroke-width="0.8"/>
<line x1="634.02" y1="98.5" x2="634.02" y2="127.4" stroke="#808080" stroke-opacity="0.45" stroke-width="0.8"/>
<line x1="646.14" y1="98.5" x2="646.14" y2="127.4" stroke="#808080" stroke-opacity="0.45" stroke-width="0.8"/>
</g>
<line x1="379.60" y1="98.50" x2="652.40" y2="98.50" stroke="#8a8a8a" stroke-width="1" />
<line x1="652.40" y1="98.50" x2="652.40" y2="127.40" stroke="#8a8a8a" stroke-width="1" />
<line x1="379.60" y1="127.70" x2="652.40" y2="127.70" stroke="#c8c8c8" stroke-width="0.7" />
<line x1="379.60" y1="98.00" x2="379.60" y2="127.90" stroke="#595959" stroke-width="1" />
<line x1="377.20" y1="98.50" x2="379.60" y2="98.50" stroke="#595959" stroke-width="1" />
<text transform="translate(358.42 101.55) scale(1 1.091)" font-size="9.07" fill="#1a1a1a">100</text>
<line x1="377.20" y1="112.95" x2="379.60" y2="112.95" stroke="#595959" stroke-width="1" />
<text transform="translate(363.48 116.00) scale(1 1.091)" font-size="9.07" fill="#1a1a1a">50</text>
<line x1="377.20" y1="127.40" x2="379.60" y2="127.40" stroke="#595959" stroke-width="1" />
<text transform="translate(368.51 130.45) scale(1 1.091)" font-size="9.07" fill="#1a1a1a">0</text>
<line x1="379.50" y1="127.40" x2="379.50" y2="129.20" stroke="#9a9a9a" stroke-width="0.8" />
<line x1="391.62" y1="127.40" x2="391.62" y2="129.20" stroke="#9a9a9a" stroke-width="0.8" />
<line x1="403.74" y1="127.40" x2="403.74" y2="129.20" stroke="#9a9a9a" stroke-width="0.8" />
<line x1="415.86" y1="127.40" x2="415.86" y2="129.20" stroke="#9a9a9a" stroke-width="0.8" />
<line x1="427.98" y1="127.40" x2="427.98" y2="129.20" stroke="#9a9a9a" stroke-width="0.8" />
<line x1="440.10" y1="127.40" x2="440.10" y2="129.20" stroke="#9a9a9a" stroke-width="0.8" />
<line x1="452.22" y1="127.40" x2="452.22" y2="129.20" stroke="#9a9a9a" stroke-width="0.8" />
<line x1="464.34" y1="127.40" x2="464.34" y2="129.20" stroke="#9a9a9a" stroke-width="0.8" />
<line x1="476.46" y1="127.40" x2="476.46" y2="129.20" stroke="#9a9a9a" stroke-width="0.8" />
<line x1="488.58" y1="127.40" x2="488.58" y2="129.20" stroke="#9a9a9a" stroke-width="0.8" />
<line x1="500.70" y1="127.40" x2="500.70" y2="129.20" stroke="#9a9a9a" stroke-width="0.8" />
<line x1="512.82" y1="127.40" x2="512.82" y2="129.20" stroke="#9a9a9a" stroke-width="0.8" />
<line x1="524.94" y1="127.40" x2="524.94" y2="129.20" stroke="#9a9a9a" stroke-width="0.8" />
<line x1="537.06" y1="127.40" x2="537.06" y2="129.20" stroke="#9a9a9a" stroke-width="0.8" />
<line x1="549.18" y1="127.40" x2="549.18" y2="129.20" stroke="#9a9a9a" stroke-width="0.8" />
<line x1="561.30" y1="127.40" x2="561.30" y2="129.20" stroke="#9a9a9a" stroke-width="0.8" />
<line x1="573.42" y1="127.40" x2="573.42" y2="129.20" stroke="#9a9a9a" stroke-width="0.8" />
<line x1="585.54" y1="127.40" x2="585.54" y2="129.20" stroke="#9a9a9a" stroke-width="0.8" />
<line x1="597.66" y1="127.40" x2="597.66" y2="129.20" stroke="#9a9a9a" stroke-width="0.8" />
<line x1="609.78" y1="127.40" x2="609.78" y2="129.20" stroke="#9a9a9a" stroke-width="0.8" />
<line x1="621.90" y1="127.40" x2="621.90" y2="129.20" stroke="#9a9a9a" stroke-width="0.8" />
<line x1="634.02" y1="127.40" x2="634.02" y2="129.20" stroke="#9a9a9a" stroke-width="0.8" />
<line x1="646.14" y1="127.40" x2="646.14" y2="129.20" stroke="#9a9a9a" stroke-width="0.8" />
<text transform="translate(355.65 131.87) scale(1 0.888) rotate(-90)" font-size="10.76" fill="#1a1a1a">Area (%)</text>
<line x1="379.60" y1="154.60" x2="648.60" y2="154.60" stroke="#d9d9d9" stroke-width="0.8" />
<line x1="379.60" y1="188.40" x2="648.60" y2="188.40" stroke="#d9d9d9" stroke-width="0.8" />
<line x1="391.47" y1="137.70" x2="391.47" y2="205.30" stroke="#d9d9d9" stroke-width="0.8" />
<line x1="403.44" y1="137.70" x2="403.44" y2="205.30" stroke="#d9d9d9" stroke-width="0.8" />
<line x1="415.41" y1="137.70" x2="415.41" y2="205.30" stroke="#d9d9d9" stroke-width="0.8" />
<line x1="427.38" y1="137.70" x2="427.38" y2="205.30" stroke="#d9d9d9" stroke-width="0.8" />
<line x1="439.35" y1="137.70" x2="439.35" y2="205.30" stroke="#d9d9d9" stroke-width="0.8" />
<line x1="451.32" y1="137.70" x2="451.32" y2="205.30" stroke="#d9d9d9" stroke-width="0.8" />
<line x1="463.29" y1="137.70" x2="463.29" y2="205.30" stroke="#d9d9d9" stroke-width="0.8" />
<line x1="475.26" y1="137.70" x2="475.26" y2="205.30" stroke="#d9d9d9" stroke-width="0.8" />
<line x1="487.23" y1="137.70" x2="487.23" y2="205.30" stroke="#d9d9d9" stroke-width="0.8" />
<line x1="499.20" y1="137.70" x2="499.20" y2="205.30" stroke="#d9d9d9" stroke-width="0.8" />
<line x1="511.17" y1="137.70" x2="511.17" y2="205.30" stroke="#d9d9d9" stroke-width="0.8" />
<line x1="523.14" y1="137.70" x2="523.14" y2="205.30" stroke="#d9d9d9" stroke-width="0.8" />
<line x1="535.11" y1="137.70" x2="535.11" y2="205.30" stroke="#d9d9d9" stroke-width="0.8" />
<line x1="547.08" y1="137.70" x2="547.08" y2="205.30" stroke="#d9d9d9" stroke-width="0.8" />
<line x1="559.05" y1="137.70" x2="559.05" y2="205.30" stroke="#d9d9d9" stroke-width="0.8" />
<line x1="571.02" y1="137.70" x2="571.02" y2="205.30" stroke="#d9d9d9" stroke-width="0.8" />
<line x1="582.99" y1="137.70" x2="582.99" y2="205.30" stroke="#d9d9d9" stroke-width="0.8" />
<line x1="594.96" y1="137.70" x2="594.96" y2="205.30" stroke="#d9d9d9" stroke-width="0.8" />
<line x1="606.93" y1="137.70" x2="606.93" y2="205.30" stroke="#d9d9d9" stroke-width="0.8" />
<line x1="618.90" y1="137.70" x2="618.90" y2="205.30" stroke="#d9d9d9" stroke-width="0.8" />
<line x1="630.87" y1="137.70" x2="630.87" y2="205.30" stroke="#d9d9d9" stroke-width="0.8" />
<line x1="642.84" y1="137.70" x2="642.84" y2="205.30" stroke="#d9d9d9" stroke-width="0.8" />
<g clip-path="url(#clipD)">
<path d="M382.60,160.90 L382.94,160.77 L383.38,160.60 L383.91,160.39 L384.49,160.16 L385.13,159.93 L385.79,159.70 L386.45,159.48 L387.10,159.30 L387.77,159.13 L388.48,158.95 L389.22,158.78 L389.98,158.62 L390.73,158.48 L391.46,158.37 L392.16,158.31 L392.80,158.30 L393.38,158.35 L393.92,158.46 L394.42,158.61 L394.91,158.79 L395.38,158.99 L395.86,159.20 L396.36,159.41 L396.90,159.60 L397.46,159.79 L398.03,159.99 L398.61,160.20 L399.20,160.41 L399.80,160.62 L400.42,160.85 L401.05,161.08 L401.70,161.31 L402.39,161.55 L403.12,161.82 L403.88,162.10 L404.64,162.37 L405.40,162.60 L406.12,162.77 L406.80,162.87 L407.40,162.86 L407.93,162.76 L408.41,162.78 L408.85,162.73 L409.26,162.61 L409.63,162.41 L409.99,162.15 L410.35,161.83 L410.70,161.45 L411.04,160.98 L411.36,160.38 L411.67,159.70 L411.96,158.96 L412.24,158.12 L412.52,157.29 L412.81,156.50 L413.10,155.79 L413.40,155.16 L413.70,154.57 L414.00,154.01 L414.29,153.47 L414.59,152.94 L414.89,152.41 L415.20,151.88 L415.50,151.31 L415.81,150.71 L416.12,150.06 L416.43,149.36 L416.75,148.66 L417.07,147.97 L417.38,147.32 L417.69,146.73 L418.00,146.20 L418.30,145.70 L418.59,145.18 L418.87,144.68 L419.15,144.24 L419.44,143.87 L419.74,143.63 L420.06,143.52 L420.40,143.60 L420.76,143.89 L421.15,144.38 L421.54,145.03 L421.95,145.78 L422.37,146.60 L422.80,147.44 L423.25,148.26 L423.70,149.00 L424.17,149.73 L424.67,150.51 L425.18,151.31 L425.70,152.11 L426.22,152.87 L426.73,153.58 L427.23,154.20 L427.70,154.70 L428.14,155.11 L428.54,155.44 L428.92,155.72 L429.30,155.92 L429.68,156.05 L430.09,156.11 L430.52,156.09 L431.00,156.00 L431.54,155.76 L432.13,155.36 L432.76,154.84 L433.40,154.27 L434.04,153.70 L434.67,153.19 L435.26,152.81 L435.80,152.60 L436.28,152.56 L436.71,152.62 L437.11,152.78 L437.49,153.01 L437.87,153.31 L438.25,153.65 L438.66,154.02 L439.10,154.40 L439.58,154.85 L440.09,155.40 L440.62,156.02 L441.16,156.66 L441.69,157.30 L442.22,157.89 L442.73,158.40 L443.20,158.80 L443.65,159.08 L444.10,159.29 L444.53,159.43 L444.94,159.53 L445.34,159.58 L445.72,159.60 L446.07,159.60 L446.40,159.60 L446.68,159.59 L446.89,159.55 L447.08,159.49 L447.24,159.41 L447.42,159.29 L447.62,159.16 L447.87,158.99 L448.20,158.80 L448.60,158.56 L449.06,158.25 L449.57,157.91 L450.11,157.55 L450.66,157.18 L451.22,156.84 L451.77,156.53 L452.30,156.29 L452.81,156.09 L453.33,155.93 L453.84,155.80 L454.36,155.69 L454.87,155.60 L455.38,155.54 L455.89,155.49 L456.40,155.46 L456.90,155.44 L457.40,155.44 L457.90,155.44 L458.40,155.48 L458.90,155.53 L459.40,155.63 L459.90,155.76 L460.40,155.94 L460.90,156.17 L461.40,156.46 L461.90,156.79 L462.39,157.16 L462.90,157.54 L463.42,157.94 L463.95,158.33 L464.50,158.71 L465.09,159.12 L465.71,159.58 L466.35,160.06 L467.01,160.54 L467.65,160.99 L468.28,161.39 L468.86,161.69 L469.40,161.89 L469.88,161.98 L470.32,161.99 L470.72,161.93 L471.10,161.81 L471.47,161.63 L471.83,161.39 L472.21,161.10 L472.60,160.77 L473.00,160.34 L473.40,159.80 L473.80,159.17 L474.20,158.51 L474.61,157.84 L475.02,157.19 L475.45,156.62 L475.90,156.15 L476.37,155.75 L476.85,155.40 L477.34,155.08 L477.85,154.80 L478.36,154.57 L478.88,154.40 L479.39,154.28 L479.90,154.22 L480.41,154.26 L480.93,154.40 L481.45,154.62 L481.98,154.87 L482.49,155.15 L483.01,155.42 L483.51,155.64 L484.00,155.80 L484.48,155.73 L484.95,155.63 L485.42,155.52 L485.88,155.38 L486.32,155.24 L486.76,155.08 L487.19,154.92 L487.60,154.75 L487.99,154.57 L488.37,154.48 L488.73,154.37 L489.08,154.25 L489.42,154.13 L489.77,154.00 L490.13,153.87 L490.50,153.75 L490.88,153.61 L491.28,153.44 L491.67,153.25 L492.07,153.07 L492.48,152.91 L492.89,152.79 L493.29,152.87 L493.70,153.08 L494.10,153.36 L494.50,153.69 L494.90,154.07 L495.30,154.49 L495.71,154.95 L496.12,155.44 L496.55,155.96 L497.00,156.50 L497.47,157.09 L497.95,157.75 L498.44,158.28 L498.95,158.82 L499.46,159.36 L499.98,159.88 L500.49,160.36 L501.00,160.79 L501.51,161.16 L502.04,161.50 L502.57,161.81 L503.10,162.10 L503.62,162.37 L504.14,162.63 L504.63,162.87 L505.10,163.10 L505.55,163.29 L505.98,163.46 L506.40,163.59 L506.80,163.72 L507.19,163.85 L507.57,164.00 L507.94,164.17 L508.30,164.38 L508.64,164.64 L508.96,164.92 L509.25,165.23 L509.54,165.55 L509.83,165.89 L510.14,166.22 L510.45,166.55 L510.80,166.87 L511.17,167.21 L511.57,167.59 L511.98,167.98 L512.41,168.36 L512.83,168.72 L513.26,169.01 L513.69,169.24 L514.10,169.35 L514.51,169.35 L514.92,169.24 L515.32,169.05 L515.73,168.80 L516.13,168.53 L516.53,168.26 L516.92,168.02 L517.30,167.84 L517.67,167.69 L518.03,167.53 L518.37,167.37 L518.72,167.23 L519.06,167.12 L519.40,167.04 L519.75,167.00 L520.10,167.02 L520.46,167.11 L520.81,167.24 L521.17,167.41 L521.52,167.62 L521.89,167.86 L522.25,168.12 L522.62,168.41 L523.00,168.71 L523.37,169.05 L523.74,169.44 L524.10,169.86 L524.48,170.31 L524.86,170.75 L525.27,171.18 L525.72,171.56 L526.20,171.89 L526.73,172.17 L527.31,172.40 L527.91,172.60 L528.54,172.78 L529.19,172.94 L529.84,173.11 L530.48,173.28 L531.10,173.47 L531.72,173.69 L532.35,173.92 L532.98,174.16 L533.61,174.41 L534.23,174.64 L534.84,174.84 L535.43,175.02 L536.00,175.14 L536.54,175.24 L537.04,175.30 L537.53,175.34 L538.00,175.35 L538.47,175.33 L538.96,175.29 L539.46,175.22 L540.00,175.12 L540.57,174.96 L541.18,174.70 L541.81,174.38 L542.44,174.06 L543.08,173.76 L543.71,173.52 L544.32,173.39 L544.90,173.40 L545.45,173.54 L545.98,173.79 L546.50,174.13 L547.01,174.55 L547.50,175.01 L548.00,175.49 L548.50,175.97 L549.00,176.41 L549.51,176.87 L550.02,177.36 L550.54,177.89 L551.05,178.42 L551.56,178.93 L552.05,179.40 L552.53,179.88 L553.00,180.26 L553.45,180.57 L553.88,180.82 L554.29,181.02 L554.70,181.17 L555.10,181.28 L555.50,181.35 L555.90,181.38 L556.30,181.37 L556.70,181.30 L557.10,181.16 L557.50,180.97 L557.90,180.74 L558.30,180.50 L558.70,180.26 L559.10,180.05 L559.50,179.87 L559.91,179.71 L560.32,179.51 L560.73,179.31 L561.15,179.12 L561.57,178.97 L561.98,178.85 L562.39,178.79 L562.80,178.80 L563.20,178.88 L563.59,179.00 L563.97,179.17 L564.35,179.39 L564.74,179.66 L565.14,179.96 L565.56,180.31 L566.00,180.70 L566.47,181.16 L566.96,181.71 L567.47,182.33 L567.99,182.97 L568.52,183.62 L569.05,184.25 L569.58,184.82 L570.10,185.30 L570.62,185.72 L571.15,186.13 L571.68,186.51 L572.21,186.84 L572.73,187.13 L573.24,187.36 L573.73,187.52 L574.20,187.60 L574.63,187.61 L575.02,187.56 L575.39,187.44 L575.75,187.27 L576.12,187.03 L576.50,186.72 L576.92,186.35 L577.40,185.90 L577.94,185.34 L578.54,184.66 L579.18,183.89 L579.84,183.07 L580.50,182.22 L581.15,181.39 L581.75,180.60 L582.30,179.90 L582.80,179.25 L583.26,178.61 L583.69,177.98 L584.11,177.39 L584.50,176.83 L584.88,176.32 L585.24,175.88 L585.60,175.50 L585.93,175.20 L586.20,174.98 L586.46,174.82 L586.70,174.71 L586.96,174.64 L587.25,174.59 L587.59,174.54 L588.00,174.50 L588.51,174.47 L589.10,174.48 L589.74,174.50 L590.42,174.55 L591.10,174.60 L591.76,174.65 L592.37,174.69 L592.90,174.70 L593.36,174.67 L593.77,174.61 L594.13,174.52 L594.48,174.43 L594.80,174.37 L595.12,174.34 L595.45,174.38 L595.80,174.50 L596.16,174.69 L596.53,174.94 L596.89,175.23 L597.26,175.57 L597.62,175.96 L597.98,176.40 L598.34,176.88 L598.70,177.40 L599.05,177.99 L599.40,178.66 L599.75,179.39 L600.10,180.15 L600.45,180.88 L600.80,181.62 L601.15,182.32 L601.50,182.99 L601.85,183.62 L602.18,184.25 L602.51,184.88 L602.85,185.50 L603.20,186.09 L603.57,186.66 L603.97,187.19 L604.40,187.67 L604.88,188.13 L605.40,188.59 L605.94,189.02 L606.51,189.41 L607.09,189.76 L607.67,190.02 L608.24,190.21 L608.80,190.30 L609.35,190.26 L609.90,190.08 L610.45,189.80 L611.00,189.46 L611.54,189.11 L612.08,188.79 L612.60,188.53 L613.10,188.41 L613.58,188.46 L614.05,188.56 L614.50,188.70 L614.94,188.87 L615.38,189.08 L615.82,189.31 L616.25,189.58 L616.70,189.86 L617.16,190.21 L617.63,190.63 L618.11,191.09 L618.59,191.57 L619.05,192.05 L619.50,192.51 L619.92,192.90 L620.30,193.22 L620.63,193.48 L620.92,193.71 L621.17,193.90 L621.40,194.05 L621.63,194.16 L621.88,194.22 L622.17,194.24 L622.50,194.21 L622.88,194.13 L623.30,194.02 L623.75,193.87 L624.21,193.66 L624.69,193.41 L625.17,193.10 L625.64,192.74 L626.10,192.28 L626.55,191.67 L627.00,190.97 L627.45,190.21 L627.90,189.40 L628.35,188.54 L628.80,187.67 L629.25,186.77 L629.70,185.88 L630.15,184.94 L630.62,183.91 L631.08,182.83 L631.54,181.74 L632.00,180.69 L632.45,179.77 L632.88,178.97 L633.30,178.30 L633.69,177.76 L634.04,177.32 L634.38,176.95 L634.71,176.67 L635.04,176.46 L635.39,176.31 L635.78,176.23 L636.20,176.20 L636.67,176.29 L637.18,176.51 L637.71,176.83 L638.26,177.21 L638.83,177.58 L639.39,177.92 L639.95,178.18 L640.50,178.27 L641.04,178.23 L641.59,178.09 L642.14,177.89 L642.69,177.64 L643.24,177.36 L643.77,177.08 L644.30,176.82 L644.80,176.60 L645.31,176.40 L645.83,176.19 L646.36,175.99 L646.87,175.78 L647.34,175.59 L647.77,175.43 L648.13,175.29 L648.40,175.20 L648.40,183.70 L648.13,183.79 L647.77,183.91 L647.34,184.05 L646.87,184.21 L646.36,184.38 L645.83,184.56 L645.31,184.73 L644.80,184.90 L644.30,185.09 L643.77,185.32 L643.24,185.56 L642.69,185.81 L642.14,186.02 L641.59,186.19 L641.04,186.29 L640.50,186.30 L639.95,186.17 L639.39,185.88 L638.83,185.51 L638.26,185.10 L637.71,184.69 L637.18,184.34 L636.67,184.08 L636.20,183.96 L635.78,183.96 L635.39,184.02 L635.04,184.15 L634.71,184.34 L634.38,184.60 L634.04,184.95 L633.69,185.37 L633.30,185.88 L632.88,186.52 L632.45,187.30 L632.00,188.19 L631.54,189.13 L631.08,190.10 L630.62,191.06 L630.15,191.98 L629.70,192.81 L629.25,193.59 L628.80,194.37 L628.35,195.13 L627.90,195.87 L627.45,196.57 L627.00,197.22 L626.55,197.80 L626.10,198.31 L625.64,198.80 L625.17,199.24 L624.69,199.63 L624.21,199.96 L623.75,200.24 L623.30,200.47 L622.88,200.65 L622.50,200.79 L622.17,200.88 L621.88,200.91 L621.63,200.88 L621.40,200.81 L621.17,200.70 L620.92,200.56 L620.63,200.38 L620.30,200.17 L619.92,199.92 L619.50,199.58 L619.05,199.19 L618.59,198.78 L618.11,198.36 L617.63,197.96 L617.16,197.62 L616.70,197.34 L616.25,197.11 L615.82,196.91 L615.38,196.74 L614.94,196.59 L614.50,196.48 L614.05,196.41 L613.58,196.38 L613.10,196.39 L612.60,196.40 L612.08,196.48 L611.54,196.63 L611.00,196.80 L610.45,196.95 L609.90,197.04 L609.35,197.04 L608.80,196.90 L608.24,196.62 L607.67,196.25 L607.09,195.79 L606.51,195.27 L605.94,194.72 L605.40,194.13 L604.88,193.53 L604.40,192.93 L603.97,192.32 L603.57,191.68 L603.20,191.01 L602.85,190.31 L602.51,189.60 L602.18,188.88 L601.85,188.15 L601.50,187.41 L601.15,186.65 L600.80,185.84 L600.45,185.01 L600.10,184.18 L599.75,183.39 L599.40,182.66 L599.05,181.99 L598.70,181.40 L598.34,180.88 L597.98,180.40 L597.62,179.96 L597.26,179.57 L596.89,179.23 L596.53,178.94 L596.16,178.69 L595.80,178.50 L595.45,178.38 L595.12,178.34 L594.80,178.37 L594.48,178.43 L594.13,178.52 L593.77,178.61 L593.36,178.67 L592.90,178.70 L592.37,178.69 L591.76,178.65 L591.10,178.60 L590.42,178.55 L589.74,178.50 L589.10,178.48 L588.51,178.47 L588.00,178.50 L587.59,178.54 L587.25,178.59 L586.96,178.64 L586.70,178.71 L586.46,178.82 L586.20,178.98 L585.93,179.20 L585.60,179.50 L585.24,179.88 L584.88,180.32 L584.50,180.83 L584.11,181.39 L583.69,181.98 L583.26,182.61 L582.80,183.25 L582.30,183.90 L581.75,184.60 L581.15,185.39 L580.50,186.22 L579.84,187.07 L579.18,187.89 L578.54,188.66 L577.94,189.34 L577.40,189.90 L576.92,190.35 L576.50,190.72 L576.12,191.03 L575.75,191.27 L575.39,191.44 L575.02,191.56 L574.63,191.61 L574.20,191.60 L573.73,191.52 L573.24,191.36 L572.73,191.13 L572.21,190.84 L571.68,190.51 L571.15,190.13 L570.62,189.72 L570.10,189.30 L569.58,188.82 L569.05,188.25 L568.52,187.62 L567.99,186.97 L567.47,186.33 L566.96,185.71 L566.47,185.16 L566.00,184.70 L565.56,184.31 L565.14,183.96 L564.74,183.66 L564.35,183.39 L563.97,183.17 L563.59,183.00 L563.20,182.88 L562.80,182.80 L562.39,182.79 L561.98,182.85 L561.57,182.97 L561.15,183.12 L560.73,183.31 L560.32,183.51 L559.91,183.72 L559.50,183.93 L559.10,184.16 L558.70,184.43 L558.30,184.71 L557.90,185.01 L557.50,185.28 L557.10,185.52 L556.70,185.71 L556.30,185.83 L555.90,185.89 L555.50,185.91 L555.10,185.90 L554.70,185.84 L554.29,185.74 L553.88,185.59 L553.45,185.39 L553.00,185.14 L552.53,184.81 L552.05,184.40 L551.56,183.86 L551.05,183.28 L550.54,182.68 L550.02,182.08 L549.51,181.51 L549.00,180.99 L548.50,180.47 L548.00,179.92 L547.50,179.37 L547.01,178.84 L546.50,178.35 L545.98,177.93 L545.45,177.60 L544.90,177.40 L544.32,177.38 L543.71,177.51 L543.08,177.74 L542.44,178.03 L541.81,178.35 L541.18,178.66 L540.57,178.91 L540.00,179.07 L539.46,179.17 L538.96,179.23 L538.47,179.27 L538.00,179.28 L537.53,179.26 L537.04,179.22 L536.54,179.15 L536.00,179.06 L535.43,178.92 L534.84,178.74 L534.23,178.53 L533.61,178.29 L532.98,178.04 L532.35,177.79 L531.72,177.55 L531.10,177.33 L530.48,177.13 L529.84,176.95 L529.19,176.78 L528.54,176.61 L527.91,176.43 L527.31,176.22 L526.73,175.98 L526.20,175.71 L525.72,175.37 L525.27,174.98 L524.86,174.55 L524.48,174.10 L524.10,173.66 L523.74,173.23 L523.37,172.83 L523.00,172.49 L522.62,172.19 L522.25,171.90 L521.89,171.63 L521.52,171.38 L521.17,171.17 L520.81,170.99 L520.46,170.86 L520.10,170.78 L519.75,170.75 L519.40,170.78 L519.06,170.86 L518.72,170.97 L518.37,171.11 L518.03,171.26 L517.67,171.41 L517.30,171.56 L516.92,171.74 L516.53,171.98 L516.13,172.24 L515.73,172.51 L515.32,172.75 L514.92,172.94 L514.51,173.05 L514.10,173.05 L513.69,172.92 L513.26,172.70 L512.83,172.39 L512.41,172.04 L511.98,171.65 L511.57,171.25 L511.17,170.87 L510.80,170.53 L510.45,170.21 L510.14,169.87 L509.83,169.53 L509.54,169.20 L509.25,168.87 L508.96,168.56 L508.64,168.27 L508.30,168.02 L507.94,167.80 L507.57,167.62 L507.19,167.48 L506.80,167.34 L506.40,167.21 L505.98,167.07 L505.55,166.90 L505.10,166.70 L504.63,166.49 L504.14,166.28 L503.62,166.05 L503.10,165.81 L502.57,165.55 L502.04,165.27 L501.51,164.96 L501.00,164.61 L500.49,164.22 L499.98,163.77 L499.46,163.28 L498.95,162.77 L498.44,162.26 L497.95,161.77 L497.47,161.30 L497.00,160.90 L496.55,160.54 L496.12,160.19 L495.71,159.86 L495.30,159.57 L494.90,159.31 L494.50,159.09 L494.10,158.92 L493.70,158.80 L493.29,158.75 L492.89,158.78 L492.48,158.86 L492.07,158.98 L491.67,159.12 L491.28,159.27 L490.88,159.40 L490.50,159.50 L490.13,159.59 L489.77,159.68 L489.42,159.77 L489.08,159.86 L488.73,159.95 L488.37,160.02 L487.99,160.07 L487.60,160.10 L487.19,160.11 L486.76,160.12 L486.32,160.11 L485.88,160.09 L485.42,160.05 L484.95,159.99 L484.48,159.91 L484.00,159.80 L483.51,159.64 L483.01,159.40 L482.49,159.13 L481.98,158.85 L481.45,158.59 L480.93,158.37 L480.41,158.22 L479.90,158.18 L479.39,158.22 L478.88,158.34 L478.36,158.50 L477.85,158.73 L477.34,159.00 L476.85,159.31 L476.37,159.66 L475.90,160.05 L475.45,160.52 L475.02,161.09 L474.61,161.73 L474.20,162.39 L473.80,163.05 L473.40,163.67 L473.00,164.21 L472.60,164.63 L472.21,164.97 L471.83,165.25 L471.47,165.48 L471.10,165.66 L470.72,165.78 L470.32,165.83 L469.88,165.81 L469.40,165.71 L468.86,165.51 L468.28,165.20 L467.65,164.80 L467.01,164.34 L466.35,163.86 L465.71,163.37 L465.09,162.90 L464.50,162.49 L463.95,162.10 L463.42,161.70 L462.90,161.30 L462.39,160.90 L461.90,160.53 L461.40,160.20 L460.90,159.90 L460.40,159.66 L459.90,159.48 L459.40,159.34 L458.90,159.24 L458.40,159.17 L457.90,159.14 L457.40,159.12 L456.90,159.13 L456.40,159.14 L455.89,159.16 L455.38,159.20 L454.87,159.26 L454.36,159.34 L453.84,159.44 L453.33,159.57 L452.81,159.73 L452.30,159.91 L451.77,160.15 L451.22,160.45 L450.66,160.79 L450.11,161.15 L449.57,161.51 L449.06,161.85 L448.60,162.16 L448.20,162.40 L447.87,162.59 L447.62,162.76 L447.42,162.89 L447.24,163.01 L447.08,163.09 L446.89,163.15 L446.68,163.19 L446.40,163.20 L446.07,163.20 L445.72,163.20 L445.34,163.18 L444.94,163.13 L444.53,163.03 L444.10,162.89 L443.65,162.68 L443.20,162.40 L442.73,162.00 L442.22,161.49 L441.69,160.90 L441.16,160.26 L440.62,159.62 L440.09,159.00 L439.58,158.45 L439.10,158.00 L438.66,157.62 L438.25,157.25 L437.87,156.91 L437.49,156.61 L437.11,156.38 L436.71,156.22 L436.28,156.16 L435.80,156.20 L435.26,156.41 L434.67,156.79 L434.04,157.30 L433.40,157.87 L432.76,158.44 L432.13,158.96 L431.54,159.36 L431.00,159.60 L430.52,159.69 L430.09,159.71 L429.68,159.65 L429.30,159.52 L428.92,159.32 L428.54,159.04 L428.14,158.71 L427.70,158.30 L427.23,157.80 L426.73,157.18 L426.22,156.47 L425.70,155.71 L425.18,154.91 L424.67,154.11 L424.17,153.33 L423.70,152.60 L423.25,151.86 L422.80,151.04 L422.37,150.20 L421.95,149.38 L421.54,148.63 L421.15,147.98 L420.76,147.49 L420.40,147.20 L420.06,147.12 L419.74,147.23 L419.44,147.47 L419.15,147.84 L418.87,148.28 L418.59,148.78 L418.30,149.30 L418.00,149.80 L417.69,150.33 L417.38,150.92 L417.07,151.57 L416.75,152.26 L416.43,152.96 L416.12,153.66 L415.81,154.38 L415.50,155.09 L415.20,155.76 L414.89,156.40 L414.59,157.04 L414.29,157.67 L414.00,158.31 L413.70,158.97 L413.40,159.67 L413.10,160.41 L412.81,161.22 L412.52,162.11 L412.24,163.04 L411.96,163.99 L411.67,164.95 L411.36,165.86 L411.04,166.69 L410.70,167.43 L410.35,168.07 L409.99,168.66 L409.63,169.19 L409.26,169.67 L408.85,170.09 L408.41,170.46 L407.93,170.77 L407.40,170.94 L406.80,171.02 L406.12,171.01 L405.40,170.92 L404.64,170.78 L403.88,170.61 L403.12,170.43 L402.39,170.25 L401.70,170.09 L401.05,169.95 L400.42,169.79 L399.80,169.63 L399.20,169.45 L398.61,169.27 L398.03,169.09 L397.46,168.92 L396.90,168.75 L396.36,168.59 L395.86,168.41 L395.38,168.22 L394.91,168.04 L394.42,167.88 L393.92,167.76 L393.38,167.68 L392.80,167.66 L392.16,167.70 L391.46,167.80 L390.73,167.94 L389.98,168.12 L389.22,168.28 L388.48,168.45 L387.77,168.63 L387.10,168.80 L386.45,168.98 L385.79,169.20 L385.13,169.43 L384.49,169.66 L383.91,169.89 L383.38,170.10 L382.94,170.27 L382.60,170.40Z" fill="#d0d0d0" stroke="none"/>
<line x1="382.6" y1="152.8" x2="648.6" y2="190.6" stroke="#ee3333" stroke-width="1.25" stroke-dasharray="7,2.4"/>
<path d="M382.60,165.90 C383.35,165.63 385.40,164.73 387.10,164.30 C388.80,163.87 391.17,163.25 392.80,163.30 C394.43,163.35 395.42,164.12 396.90,164.60 C398.38,165.08 399.95,165.73 401.70,166.20 C403.45,166.67 405.90,167.67 407.40,167.40 C408.90,167.13 409.75,166.15 410.70,164.60 C411.65,163.05 412.30,160.00 413.10,158.10 C413.90,156.20 414.68,154.88 415.50,153.20 C416.32,151.52 417.18,149.30 418.00,148.00 C418.82,146.70 419.45,144.93 420.40,145.40 C421.35,145.87 422.48,148.95 423.70,150.80 C424.92,152.65 426.48,155.33 427.70,156.50 C428.92,157.67 429.65,158.15 431.00,157.80 C432.35,157.45 434.45,154.67 435.80,154.40 C437.15,154.13 437.87,155.17 439.10,156.20 C440.33,157.23 441.98,159.73 443.20,160.60 C444.42,161.47 445.57,161.40 446.40,161.40 C447.23,161.40 447.22,161.15 448.20,160.60 C449.18,160.05 450.93,158.65 452.30,158.10 C453.67,157.55 455.05,157.35 456.40,157.30 C457.75,157.25 459.05,157.25 460.40,157.80 C461.75,158.35 463.00,159.60 464.50,160.60 C466.00,161.60 468.05,163.45 469.40,163.80 C470.75,164.15 471.52,163.65 472.60,162.70 C473.68,161.75 474.68,159.18 475.90,158.10 C477.12,157.02 478.55,156.25 479.90,156.20 C481.25,156.15 482.72,157.48 484.00,157.80 C485.28,158.12 486.52,158.15 487.60,158.10 C488.68,158.05 489.48,157.72 490.50,157.50 C491.52,157.28 492.62,156.57 493.70,156.80 C494.78,157.03 495.78,157.92 497.00,158.90 C498.22,159.88 499.65,161.70 501.00,162.70 C502.35,163.70 503.88,164.32 505.10,164.90 C506.32,165.48 507.35,165.57 508.30,166.20 C509.25,166.83 509.83,167.87 510.80,168.70 C511.77,169.53 513.02,171.03 514.10,171.20 C515.18,171.37 516.30,170.08 517.30,169.70 C518.30,169.32 519.15,168.75 520.10,168.90 C521.05,169.05 521.98,169.78 523.00,170.60 C524.02,171.42 524.85,173.00 526.20,173.80 C527.55,174.60 529.47,174.85 531.10,175.40 C532.73,175.95 534.52,176.82 536.00,177.10 C537.48,177.38 538.52,177.38 540.00,177.10 C541.48,176.82 543.40,175.13 544.90,175.40 C546.40,175.67 547.65,177.48 549.00,178.70 C550.35,179.92 551.78,181.88 553.00,182.70 C554.22,183.52 555.22,183.73 556.30,183.60 C557.38,183.47 558.42,182.37 559.50,181.90 C560.58,181.43 561.72,180.67 562.80,180.80 C563.88,180.93 564.78,181.62 566.00,182.70 C567.22,183.78 568.73,186.15 570.10,187.30 C571.47,188.45 572.98,189.50 574.20,189.60 C575.42,189.70 576.05,189.18 577.40,187.90 C578.75,186.62 580.93,183.63 582.30,181.90 C583.67,180.17 584.65,178.40 585.60,177.50 C586.55,176.60 586.78,176.63 588.00,176.50 C589.22,176.37 591.60,176.70 592.90,176.70 C594.20,176.70 594.83,176.05 595.80,176.50 C596.77,176.95 597.75,177.95 598.70,179.40 C599.65,180.85 600.55,183.38 601.50,185.20 C602.45,187.02 603.18,188.90 604.40,190.30 C605.62,191.70 607.35,193.25 608.80,193.60 C610.25,193.95 611.78,192.40 613.10,192.40 C614.42,192.40 615.50,192.88 616.70,193.60 C617.90,194.32 619.33,196.05 620.30,196.70 C621.27,197.35 621.53,197.73 622.50,197.50 C623.47,197.27 624.90,196.63 626.10,195.30 C627.30,193.97 628.50,191.67 629.70,189.50 C630.90,187.33 632.22,183.85 633.30,182.30 C634.38,180.75 635.00,180.20 636.20,180.20 C637.40,180.20 639.07,182.18 640.50,182.30 C641.93,182.42 643.48,181.33 644.80,180.90 C646.12,180.47 647.80,179.90 648.40,179.70" fill="none" stroke="#4472c4" stroke-width="1.35" stroke-linejoin="round"/>
</g>
<line x1="379.60" y1="171.50" x2="648.60" y2="171.50" stroke="#333" stroke-width="1.1" />
<rect x="379.6" y="137.7" width="269.00" height="67.60" fill="none" stroke="#595959" stroke-width="1"/>
<line x1="377.20" y1="137.70" x2="379.60" y2="137.70" stroke="#595959" stroke-width="1" />
<text transform="translate(362.09 140.70) scale(1 1.040)" font-size="9.24" fill="#1a1a1a">40</text>
<line x1="377.20" y1="154.60" x2="379.60" y2="154.60" stroke="#595959" stroke-width="1" />
<text transform="translate(362.09 157.60) scale(1 1.040)" font-size="9.24" fill="#1a1a1a">20</text>
<line x1="377.20" y1="171.50" x2="379.60" y2="171.50" stroke="#595959" stroke-width="1" />
<text transform="translate(367.22 174.50) scale(1 1.040)" font-size="9.24" fill="#1a1a1a">0</text>
<line x1="377.20" y1="188.40" x2="379.60" y2="188.40" stroke="#595959" stroke-width="1" />
<text transform="translate(359.00 191.40) scale(1 1.040)" font-size="9.24" fill="#1a1a1a">-20</text>
<line x1="377.20" y1="205.30" x2="379.60" y2="205.30" stroke="#595959" stroke-width="1" />
<text transform="translate(359.00 208.30) scale(1 1.040)" font-size="9.24" fill="#1a1a1a">-40</text>
<line x1="379.50" y1="205.30" x2="379.50" y2="207.60" stroke="#595959" stroke-width="1" />
<text transform="translate(381.53 229.33) scale(1 0.979) rotate(-90)" font-size="6.78" fill="#1a1a1a">2002</text>
<line x1="391.47" y1="205.30" x2="391.47" y2="207.60" stroke="#595959" stroke-width="1" />
<text transform="translate(393.50 229.33) scale(1 0.979) rotate(-90)" font-size="6.78" fill="#1a1a1a">2003</text>
<line x1="403.44" y1="205.30" x2="403.44" y2="207.60" stroke="#595959" stroke-width="1" />
<text transform="translate(405.47 229.33) scale(1 0.979) rotate(-90)" font-size="6.78" fill="#1a1a1a">2004</text>
<line x1="415.41" y1="205.30" x2="415.41" y2="207.60" stroke="#595959" stroke-width="1" />
<text transform="translate(417.44 229.33) scale(1 0.979) rotate(-90)" font-size="6.78" fill="#1a1a1a">2005</text>
<line x1="427.38" y1="205.30" x2="427.38" y2="207.60" stroke="#595959" stroke-width="1" />
<text transform="translate(429.41 229.33) scale(1 0.979) rotate(-90)" font-size="6.78" fill="#1a1a1a">2006</text>
<line x1="439.35" y1="205.30" x2="439.35" y2="207.60" stroke="#595959" stroke-width="1" />
<text transform="translate(441.38 229.33) scale(1 0.979) rotate(-90)" font-size="6.78" fill="#1a1a1a">2007</text>
<line x1="451.32" y1="205.30" x2="451.32" y2="207.60" stroke="#595959" stroke-width="1" />
<text transform="translate(453.35 229.33) scale(1 0.979) rotate(-90)" font-size="6.78" fill="#1a1a1a">2008</text>
<line x1="463.29" y1="205.30" x2="463.29" y2="207.60" stroke="#595959" stroke-width="1" />
<text transform="translate(465.32 229.33) scale(1 0.979) rotate(-90)" font-size="6.78" fill="#1a1a1a">2009</text>
<line x1="475.26" y1="205.30" x2="475.26" y2="207.60" stroke="#595959" stroke-width="1" />
<text transform="translate(477.29 229.33) scale(1 0.979) rotate(-90)" font-size="6.78" fill="#1a1a1a">2010</text>
<line x1="487.23" y1="205.30" x2="487.23" y2="207.60" stroke="#595959" stroke-width="1" />
<text transform="translate(489.26 229.33) scale(1 0.979) rotate(-90)" font-size="6.78" fill="#1a1a1a">2011</text>
<line x1="499.20" y1="205.30" x2="499.20" y2="207.60" stroke="#595959" stroke-width="1" />
<text transform="translate(501.23 229.33) scale(1 0.979) rotate(-90)" font-size="6.78" fill="#1a1a1a">2012</text>
<line x1="511.17" y1="205.30" x2="511.17" y2="207.60" stroke="#595959" stroke-width="1" />
<text transform="translate(513.20 229.33) scale(1 0.979) rotate(-90)" font-size="6.78" fill="#1a1a1a">2013</text>
<line x1="523.14" y1="205.30" x2="523.14" y2="207.60" stroke="#595959" stroke-width="1" />
<text transform="translate(525.17 229.33) scale(1 0.979) rotate(-90)" font-size="6.78" fill="#1a1a1a">2014</text>
<line x1="535.11" y1="205.30" x2="535.11" y2="207.60" stroke="#595959" stroke-width="1" />
<text transform="translate(537.14 229.33) scale(1 0.979) rotate(-90)" font-size="6.78" fill="#1a1a1a">2015</text>
<line x1="547.08" y1="205.30" x2="547.08" y2="207.60" stroke="#595959" stroke-width="1" />
<text transform="translate(549.11 229.33) scale(1 0.979) rotate(-90)" font-size="6.78" fill="#1a1a1a">2016</text>
<line x1="559.05" y1="205.30" x2="559.05" y2="207.60" stroke="#595959" stroke-width="1" />
<text transform="translate(561.08 229.33) scale(1 0.979) rotate(-90)" font-size="6.78" fill="#1a1a1a">2017</text>
<line x1="571.02" y1="205.30" x2="571.02" y2="207.60" stroke="#595959" stroke-width="1" />
<text transform="translate(573.05 229.33) scale(1 0.979) rotate(-90)" font-size="6.78" fill="#1a1a1a">2018</text>
<line x1="582.99" y1="205.30" x2="582.99" y2="207.60" stroke="#595959" stroke-width="1" />
<text transform="translate(585.02 229.33) scale(1 0.979) rotate(-90)" font-size="6.78" fill="#1a1a1a">2019</text>
<line x1="594.96" y1="205.30" x2="594.96" y2="207.60" stroke="#595959" stroke-width="1" />
<text transform="translate(596.99 229.33) scale(1 0.979) rotate(-90)" font-size="6.78" fill="#1a1a1a">2020</text>
<line x1="606.93" y1="205.30" x2="606.93" y2="207.60" stroke="#595959" stroke-width="1" />
<text transform="translate(608.96 229.33) scale(1 0.979) rotate(-90)" font-size="6.78" fill="#1a1a1a">2021</text>
<line x1="618.90" y1="205.30" x2="618.90" y2="207.60" stroke="#595959" stroke-width="1" />
<text transform="translate(620.93 229.33) scale(1 0.979) rotate(-90)" font-size="6.78" fill="#1a1a1a">2022</text>
<line x1="630.87" y1="205.30" x2="630.87" y2="207.60" stroke="#595959" stroke-width="1" />
<text transform="translate(632.90 229.33) scale(1 0.979) rotate(-90)" font-size="6.78" fill="#1a1a1a">2023</text>
<line x1="642.84" y1="205.30" x2="642.84" y2="207.60" stroke="#595959" stroke-width="1" />
<text transform="translate(644.87 229.33) scale(1 0.979) rotate(-90)" font-size="6.78" fill="#1a1a1a">2024</text>
<line x1="648.60" y1="140.40" x2="651.00" y2="140.40" stroke="#595959" stroke-width="1" />
<text transform="translate(658.92 143.90) scale(1 1.068)" font-size="9.00" fill="#1a1a1a">100</text>
<line x1="648.60" y1="155.95" x2="651.00" y2="155.95" stroke="#595959" stroke-width="1" />
<text transform="translate(659.24 159.45) scale(1 1.068)" font-size="9.00" fill="#1a1a1a">50</text>
<line x1="648.60" y1="171.50" x2="651.00" y2="171.50" stroke="#595959" stroke-width="1" />
<text transform="translate(659.24 175.00) scale(1 1.068)" font-size="9.00" fill="#1a1a1a">0</text>
<line x1="648.60" y1="187.05" x2="651.00" y2="187.05" stroke="#595959" stroke-width="1" />
<text transform="translate(656.24 190.55) scale(1 1.068)" font-size="9.00" fill="#1a1a1a">-50</text>
<line x1="648.60" y1="202.60" x2="651.00" y2="202.60" stroke="#595959" stroke-width="1" />
<text transform="translate(655.93 206.10) scale(1 1.068)" font-size="9.00" fill="#1a1a1a">-100</text>
<text transform="translate(617.52 150.49) scale(1 1.128)" font-size="9.40" fill="#1a1a1a">LCRB</text>
<text transform="translate(356.35 203.26) scale(1 1.123) rotate(-90)" font-size="8.44" fill="#1a1a1a">TWSA (km<tspan font-size="5.23" dy="-3.37">3</tspan><tspan dy="3.37">)</tspan></text>
<text transform="translate(680.75 196.86) scale(1 1.026) rotate(-90)" font-size="9.16" fill="#1a1a1a">TWSA (mm)</text>
<text transform="translate(346.50 143.50) scale(1 1.000)" font-size="9.60" fill="#1a1a1a">d)</text>
<g clip-path="url(#clipAD)">
<rect x="379.6" y="236.4" width="270.00" height="28.30" fill="#dae3f6"/>
<path d="M379.60,264.7 L379.60,236.40 L380.30,236.40 L381.80,236.40 L382.90,236.40 L384.60,236.40 L385.70,236.40 L386.80,236.40 L388.50,236.40 L390.20,236.40 L391.90,236.40 L393.00,236.40 L394.70,236.40 L396.40,236.40 L398.00,236.68 L399.70,236.68 L401.40,236.40 L403.10,236.40 L404.80,236.68 L408.10,236.68 L411.50,236.68 L413.70,236.68 L415.40,236.68 L416.50,236.68 L417.60,241.78 L418.80,249.70 L419.90,251.97 L421.60,245.17 L422.70,253.10 L424.40,255.08 L426.00,250.83 L427.70,237.25 L428.80,238.10 L430.50,238.38 L431.60,238.38 L433.30,238.95 L435.00,238.38 L437.20,240.65 L439.50,240.65 L441.70,237.25 L444.00,237.25 L446.20,238.38 L448.40,239.23 L449.50,239.51 L451.20,241.78 L452.30,250.83 L454.00,251.97 L455.60,237.25 L456.80,248.57 L458.40,256.21 L460.10,255.08 L461.80,251.97 L462.90,241.78 L464.00,257.34 L465.70,251.97 L467.40,241.78 L469.10,246.31 L470.80,239.51 L472.40,238.38 L474.10,237.25 L475.20,236.68 L476.90,240.65 L478.60,248.57 L480.30,255.08 L482.00,246.31 L483.60,253.95 L485.30,246.31 L487.00,238.38 L488.70,247.44 L490.40,245.17 L492.00,244.04 L493.70,240.65 L495.40,239.51 L497.60,238.38 L499.30,237.25 L501.00,236.68 L503.20,236.40 L505.50,236.40 L507.70,236.40 L510.00,237.25 L512.20,236.40 L513.70,237.25 L515.40,237.25 L517.00,237.25 L518.70,237.25 L520.40,238.38 L522.10,238.38 L523.80,237.25 L525.40,237.25 L527.10,237.25 L528.80,236.68 L530.50,236.68 L532.20,236.68 L533.80,236.68 L536.10,237.25 L538.30,237.81 L540.60,238.38 L542.80,238.38 L545.00,239.51 L546.70,241.78 L548.40,238.38 L550.10,238.38 L551.80,238.38 L552.90,241.78 L554.60,244.04 L556.20,245.17 L557.90,245.17 L559.60,257.34 L560.70,261.87 L562.40,251.97 L564.10,253.10 L565.80,245.17 L567.40,253.95 L569.10,251.97 L570.80,238.38 L572.50,237.25 L574.20,236.68 L575.80,236.40 L577.50,236.40 L579.20,236.68 L580.70,236.68 L582.40,237.25 L584.00,241.78 L585.70,257.34 L587.40,262.44 L589.10,263.00 L590.80,261.87 L591.90,239.51 L593.00,238.38 L594.10,248.57 L595.80,257.34 L597.50,258.47 L599.20,257.34 L601.40,251.97 L603.10,238.38 L604.80,236.40 L606.40,236.40 L607.60,236.40 L609.20,236.40 L610.90,236.40 L612.60,236.40 L614.30,236.40 L616.00,236.40 L617.60,237.25 L619.30,239.51 L621.00,238.38 L622.70,236.68 L624.40,236.68 L626.00,237.25 L627.70,239.51 L629.40,241.78 L631.10,248.57 L632.80,257.34 L634.40,259.61 L636.10,260.74 L637.80,251.97 L639.50,241.78 L641.20,240.65 L642.80,241.78 L644.50,239.51 L646.20,240.65 L648.60,241.78 L649.60,242.06 L649.60,264.7 Z" fill="#f0fa3c"/>
<path d="M379.60,264.7 L379.60,263.28 L380.30,263.28 L381.80,236.40 L382.90,236.40 L384.60,236.40 L385.70,236.40 L386.80,236.40 L388.50,237.25 L390.20,237.25 L391.90,237.25 L393.00,237.25 L394.70,238.38 L396.40,239.51 L398.00,240.65 L399.70,239.51 L401.40,238.95 L403.10,238.38 L404.80,239.51 L408.10,239.51 L411.50,238.38 L413.70,238.38 L415.40,238.38 L416.50,259.61 L417.60,260.74 L418.80,260.74 L419.90,261.87 L421.60,260.74 L422.70,259.61 L424.40,258.47 L426.00,259.04 L427.70,239.51 L428.80,240.65 L430.50,242.91 L431.60,241.78 L433.30,241.78 L435.00,244.04 L437.20,248.57 L439.50,251.97 L441.70,244.04 L444.00,241.78 L446.20,244.04 L448.40,245.17 L449.50,244.04 L451.20,249.70 L452.30,258.47 L454.00,257.34 L455.60,256.21 L456.80,257.34 L458.40,261.87 L460.10,262.44 L461.80,261.87 L462.90,262.44 L464.00,263.00 L465.70,263.28 L467.40,261.87 L469.10,260.74 L470.80,257.34 L472.40,246.31 L474.10,241.78 L475.20,257.34 L476.90,261.87 L478.60,262.44 L480.30,262.44 L482.00,263.00 L483.60,263.00 L485.30,263.00 L487.00,260.74 L488.70,255.08 L490.40,251.97 L492.00,250.83 L493.70,249.70 L495.40,246.31 L497.60,244.04 L499.30,246.31 L501.00,238.38 L503.20,237.81 L505.50,237.25 L507.70,239.51 L510.00,238.38 L512.20,237.25 L513.70,240.65 L515.40,239.51 L517.00,238.38 L518.70,238.38 L520.40,242.91 L522.10,246.31 L523.80,239.51 L525.40,238.38 L527.10,237.81 L528.80,237.81 L530.50,238.38 L532.20,239.51 L533.80,239.51 L536.10,240.65 L538.30,241.78 L540.60,242.34 L542.80,245.17 L545.00,251.97 L546.70,258.47 L548.40,259.61 L550.10,247.44 L551.80,244.04 L552.90,247.44 L554.60,248.57 L556.20,251.97 L557.90,257.34 L559.60,260.74 L560.70,261.87 L562.40,263.00 L564.10,257.34 L565.80,258.47 L567.40,260.74 L569.10,261.87 L570.80,241.78 L572.50,238.38 L574.20,237.25 L575.80,237.25 L577.50,237.25 L579.20,237.81 L580.70,238.38 L582.40,241.78 L584.00,257.34 L585.70,261.87 L587.40,263.57 L589.10,263.85 L590.80,263.28 L591.90,242.91 L593.00,241.78 L594.10,257.34 L595.80,261.87 L597.50,262.44 L599.20,260.74 L601.40,257.34 L603.10,238.38 L604.80,236.68 L606.40,236.40 L607.60,236.40 L609.20,236.40 L610.90,236.40 L612.60,236.40 L614.30,236.40 L616.00,237.25 L617.60,242.91 L619.30,246.31 L621.00,242.91 L622.70,239.51 L624.40,240.65 L626.00,244.04 L627.70,247.44 L629.40,253.95 L631.10,260.74 L632.80,262.44 L634.40,263.00 L636.10,263.28 L637.80,261.87 L639.50,257.34 L641.20,253.10 L642.80,250.83 L644.50,246.31 L646.20,249.70 L648.60,253.95 L649.60,254.51 L649.60,264.7 Z" fill="#e5a94c"/>
<path d="M379.60,264.7 L379.60,263.85 L380.30,263.85 L381.80,237.25 L382.90,236.68 L384.60,236.68 L385.70,236.68 L386.80,237.25 L388.50,238.38 L390.20,239.51 L391.90,239.51 L393.00,241.78 L394.70,246.31 L396.40,244.04 L398.00,245.17 L399.70,246.31 L401.40,241.78 L403.10,244.04 L404.80,243.47 L408.10,242.91 L411.50,241.78 L413.70,241.78 L415.40,257.34 L416.50,261.87 L417.60,263.57 L418.80,263.85 L419.90,264.13 L421.60,263.85 L422.70,263.57 L424.40,263.28 L426.00,263.00 L427.70,257.34 L428.80,244.04 L430.50,245.17 L431.60,246.31 L433.30,247.44 L435.00,251.97 L437.20,257.34 L439.50,259.61 L441.70,251.97 L444.00,246.31 L446.20,247.44 L448.40,248.57 L449.50,249.70 L451.20,257.34 L452.30,261.87 L454.00,262.44 L455.60,263.28 L456.80,263.57 L458.40,263.85 L460.10,264.13 L461.80,264.13 L462.90,264.42 L464.00,264.42 L465.70,264.42 L467.40,264.42 L469.10,263.85 L470.80,263.00 L472.40,260.74 L474.10,255.08 L475.20,261.87 L476.90,263.57 L478.60,264.13 L480.30,264.13 L482.00,264.13 L483.60,264.13 L485.30,264.13 L487.00,263.85 L488.70,260.74 L490.40,256.21 L492.00,255.08 L493.70,253.95 L495.40,251.97 L497.60,251.97 L499.30,257.34 L501.00,246.31 L503.20,239.51 L505.50,238.38 L507.70,244.04 L510.00,246.31 L512.20,256.78 L513.70,257.34 L515.40,246.31 L517.00,245.17 L518.70,249.70 L520.40,257.34 L522.10,261.87 L523.80,260.74 L525.40,246.31 L527.10,241.78 L528.80,241.78 L530.50,244.04 L532.20,251.97 L533.80,259.61 L536.10,258.47 L538.30,257.34 L540.60,258.47 L542.80,260.74 L545.00,261.87 L546.70,263.00 L548.40,263.85 L550.10,263.85 L551.80,263.85 L552.90,263.85 L554.60,263.85 L556.20,263.85 L557.90,264.13 L559.60,264.13 L560.70,264.42 L562.40,264.42 L564.10,264.42 L565.80,264.42 L567.40,264.42 L569.10,264.13 L570.80,261.87 L572.50,244.04 L574.20,240.65 L575.80,239.51 L577.50,239.51 L579.20,241.78 L580.70,245.17 L582.40,257.34 L584.00,261.87 L585.70,263.57 L587.40,264.13 L589.10,264.42 L590.80,264.42 L591.90,257.34 L593.00,258.47 L594.10,261.87 L595.80,263.57 L597.50,263.85 L599.20,263.57 L601.40,259.61 L603.10,241.78 L604.80,237.81 L606.40,236.68 L607.60,236.68 L609.20,236.68 L610.90,236.68 L612.60,236.68 L614.30,237.25 L616.00,244.04 L617.60,251.97 L619.30,248.57 L621.00,247.44 L622.70,245.17 L624.40,248.57 L626.00,251.97 L627.70,256.21 L629.40,260.74 L631.10,263.28 L632.80,263.85 L634.40,264.13 L636.10,264.13 L637.80,263.57 L639.50,262.44 L641.20,257.34 L642.80,255.08 L644.50,253.95 L646.20,256.21 L648.60,259.61 L649.60,260.17 L649.60,264.7 Z" fill="#f08224"/>
<path d="M379.60,264.7 L379.60,264.42 L380.30,264.42 L381.80,261.87 L382.90,257.34 L384.60,237.81 L385.70,237.25 L386.80,239.51 L388.50,244.04 L390.20,247.44 L391.90,247.44 L393.00,257.34 L394.70,256.78 L396.40,255.64 L398.00,251.97 L399.70,255.08 L401.40,255.08 L403.10,253.95 L404.80,253.38 L408.10,251.97 L411.50,249.70 L413.70,257.34 L415.40,261.87 L416.50,263.57 L417.60,264.42 L418.80,264.70 L419.90,264.70 L421.60,264.70 L422.70,264.70 L424.40,264.70 L426.00,264.70 L427.70,264.13 L428.80,259.61 L430.50,253.10 L431.60,250.83 L433.30,256.21 L435.00,260.74 L437.20,261.87 L439.50,261.87 L441.70,258.47 L444.00,258.47 L446.20,257.34 L448.40,256.78 L449.50,258.47 L451.20,263.57 L452.30,264.42 L454.00,264.70 L455.60,264.70 L456.80,264.70 L458.40,264.70 L460.10,264.70 L461.80,264.70 L462.90,264.70 L464.00,264.70 L465.70,264.70 L467.40,264.70 L469.10,264.70 L470.80,264.70 L472.40,264.70 L474.10,264.42 L475.20,264.42 L476.90,264.70 L478.60,264.70 L480.30,264.70 L482.00,264.70 L483.60,264.70 L485.30,264.70 L487.00,264.70 L488.70,263.00 L490.40,260.74 L492.00,259.04 L493.70,257.34 L495.40,258.47 L497.60,256.21 L499.30,261.87 L501.00,262.44 L503.20,262.44 L505.50,260.74 L507.70,262.44 L510.00,263.00 L512.20,263.57 L513.70,263.57 L515.40,260.74 L517.00,257.34 L518.70,258.47 L520.40,263.00 L522.10,264.13 L523.80,264.13 L525.40,262.44 L527.10,261.87 L528.80,258.47 L530.50,261.87 L532.20,263.57 L533.80,264.13 L536.10,264.13 L538.30,264.13 L540.60,264.13 L542.80,264.42 L545.00,264.42 L546.70,264.42 L548.40,264.70 L550.10,264.70 L551.80,264.70 L552.90,264.70 L554.60,264.70 L556.20,264.70 L557.90,264.70 L559.60,264.70 L560.70,264.70 L562.40,264.70 L564.10,264.70 L565.80,264.70 L567.40,264.70 L569.10,264.70 L570.80,263.85 L572.50,261.87 L574.20,255.08 L575.80,247.44 L577.50,248.57 L579.20,255.08 L580.70,260.74 L582.40,263.00 L584.00,264.13 L585.70,264.42 L587.40,264.70 L589.10,264.70 L590.80,264.70 L591.90,264.70 L593.00,264.70 L594.10,264.70 L595.80,264.70 L597.50,264.70 L599.20,264.70 L601.40,263.57 L603.10,260.74 L604.80,241.78 L606.40,239.51 L607.60,238.38 L609.20,238.38 L610.90,238.38 L612.60,239.51 L614.30,248.57 L616.00,257.34 L617.60,261.87 L619.30,260.74 L621.00,259.61 L622.70,255.08 L624.40,253.95 L626.00,259.61 L627.70,262.44 L629.40,263.57 L631.10,264.13 L632.80,264.42 L634.40,264.70 L636.10,264.70 L637.80,264.70 L639.50,263.85 L641.20,263.00 L642.80,262.44 L644.50,263.28 L646.20,263.57 L648.60,263.85 L649.60,263.85 L649.60,264.7 Z" fill="#ff2a14"/>
<path d="M379.60,264.7 L379.60,264.70 L380.30,264.70 L381.80,264.70 L382.90,264.70 L384.60,259.04 L385.70,258.47 L386.80,260.74 L388.50,262.44 L390.20,263.00 L391.90,263.85 L393.00,264.42 L394.70,264.42 L396.40,264.42 L398.00,264.42 L399.70,264.42 L401.40,264.42 L403.10,264.42 L404.80,264.42 L408.10,264.42 L411.50,264.70 L413.70,264.70 L415.40,264.70 L416.50,264.70 L417.60,264.70 L418.80,264.70 L419.90,264.70 L421.60,264.70 L422.70,264.70 L424.40,264.70 L426.00,264.70 L427.70,264.70 L428.80,264.70 L430.50,264.70 L431.60,261.30 L433.30,261.87 L435.00,264.13 L437.20,264.70 L439.50,264.70 L441.70,264.70 L444.00,264.70 L446.20,264.70 L448.40,264.70 L449.50,264.70 L451.20,264.70 L452.30,264.70 L454.00,264.70 L455.60,264.70 L456.80,264.70 L458.40,264.70 L460.10,264.70 L461.80,264.70 L462.90,264.70 L464.00,264.70 L465.70,264.70 L467.40,264.70 L469.10,264.70 L470.80,264.70 L472.40,264.70 L474.10,264.70 L475.20,264.70 L476.90,264.70 L478.60,264.70 L480.30,264.70 L482.00,264.70 L483.60,264.70 L485.30,264.70 L487.00,264.70 L488.70,264.70 L490.40,264.70 L492.00,263.00 L493.70,261.87 L495.40,263.57 L497.60,264.42 L499.30,264.70 L501.00,264.70 L503.20,264.70 L505.50,264.70 L507.70,264.70 L510.00,264.70 L512.20,264.70 L513.70,264.70 L515.40,264.70 L517.00,264.70 L518.70,264.70 L520.40,264.70 L522.10,264.70 L523.80,264.70 L525.40,264.70 L527.10,264.70 L528.80,264.70 L530.50,264.70 L532.20,264.70 L533.80,264.70 L536.10,264.70 L538.30,264.70 L540.60,264.70 L542.80,264.70 L545.00,264.70 L546.70,264.70 L548.40,264.70 L550.10,264.70 L551.80,264.70 L552.90,264.70 L554.60,264.70 L556.20,264.70 L557.90,264.70 L559.60,264.70 L560.70,264.70 L562.40,264.70 L564.10,264.70 L565.80,264.70 L567.40,264.70 L569.10,264.70 L570.80,264.70 L572.50,264.70 L574.20,263.00 L575.80,261.87 L577.50,262.44 L579.20,263.57 L580.70,264.13 L582.40,264.70 L584.00,264.70 L585.70,264.70 L587.40,264.70 L589.10,264.70 L590.80,264.70 L591.90,264.70 L593.00,264.70 L594.10,264.70 L595.80,264.70 L597.50,264.70 L599.20,264.70 L601.40,264.70 L603.10,264.70 L604.80,263.57 L606.40,257.34 L607.60,246.31 L609.20,247.44 L610.90,246.31 L612.60,246.31 L614.30,261.87 L616.00,263.85 L617.60,264.70 L619.30,264.70 L621.00,264.70 L622.70,264.70 L624.40,261.87 L626.00,264.70 L627.70,264.70 L629.40,264.70 L631.10,264.70 L632.80,264.70 L634.40,264.70 L636.10,264.70 L637.80,264.70 L639.50,264.70 L641.20,264.70 L642.80,264.70 L644.50,264.70 L646.20,264.70 L648.60,264.70 L649.60,264.70 L649.60,264.7 Z" fill="#7b3539"/>
<line x1="391.49" y1="236.4" x2="391.49" y2="264.7" stroke="#808080" stroke-opacity="0.45" stroke-width="0.8"/>
<line x1="403.48" y1="236.4" x2="403.48" y2="264.7" stroke="#808080" stroke-opacity="0.45" stroke-width="0.8"/>
<line x1="415.47" y1="236.4" x2="415.47" y2="264.7" stroke="#808080" stroke-opacity="0.45" stroke-width="0.8"/>
<line x1="427.46" y1="236.4" x2="427.46" y2="264.7" stroke="#808080" stroke-opacity="0.45" stroke-width="0.8"/>
<line x1="439.45" y1="236.4" x2="439.45" y2="264.7" stroke="#808080" stroke-opacity="0.45" stroke-width="0.8"/>
<line x1="451.44" y1="236.4" x2="451.44" y2="264.7" stroke="#808080" stroke-opacity="0.45" stroke-width="0.8"/>
<line x1="463.43" y1="236.4" x2="463.43" y2="264.7" stroke="#808080" stroke-opacity="0.45" stroke-width="0.8"/>
<line x1="475.42" y1="236.4" x2="475.42" y2="264.7" stroke="#808080" stroke-opacity="0.45" stroke-width="0.8"/>
<line x1="487.41" y1="236.4" x2="487.41" y2="264.7" stroke="#808080" stroke-opacity="0.45" stroke-width="0.8"/>
<line x1="499.40" y1="236.4" x2="499.40" y2="264.7" stroke="#808080" stroke-opacity="0.45" stroke-width="0.8"/>
<line x1="511.39" y1="236.4" x2="511.39" y2="264.7" stroke="#808080" stroke-opacity="0.45" stroke-width="0.8"/>
<line x1="523.38" y1="236.4" x2="523.38" y2="264.7" stroke="#808080" stroke-opacity="0.45" stroke-width="0.8"/>
<line x1="535.37" y1="236.4" x2="535.37" y2="264.7" stroke="#808080" stroke-opacity="0.45" stroke-width="0.8"/>
<line x1="547.36" y1="236.4" x2="547.36" y2="264.7" stroke="#808080" stroke-opacity="0.45" stroke-width="0.8"/>
<line x1="559.35" y1="236.4" x2="559.35" y2="264.7" stroke="#808080" stroke-opacity="0.45" stroke-width="0.8"/>
<line x1="571.34" y1="236.4" x2="571.34" y2="264.7" stroke="#808080" stroke-opacity="0.45" stroke-width="0.8"/>
<line x1="583.33" y1="236.4" x2="583.33" y2="264.7" stroke="#808080" stroke-opacity="0.45" stroke-width="0.8"/>
<line x1="595.32" y1="236.4" x2="595.32" y2="264.7" stroke="#808080" stroke-opacity="0.45" stroke-width="0.8"/>
<line x1="607.31" y1="236.4" x2="607.31" y2="264.7" stroke="#808080" stroke-opacity="0.45" stroke-width="0.8"/>
<line x1="619.30" y1="236.4" x2="619.30" y2="264.7" stroke="#808080" stroke-opacity="0.45" stroke-width="0.8"/>
<line x1="631.29" y1="236.4" x2="631.29" y2="264.7" stroke="#808080" stroke-opacity="0.45" stroke-width="0.8"/>
<line x1="643.28" y1="236.4" x2="643.28" y2="264.7" stroke="#808080" stroke-opacity="0.45" stroke-width="0.8"/>
</g>
<line x1="379.60" y1="236.40" x2="649.60" y2="236.40" stroke="#595959" stroke-width="1" />
<line x1="649.60" y1="236.40" x2="649.60" y2="264.70" stroke="#595959" stroke-width="1" />
<line x1="379.60" y1="265.00" x2="649.60" y2="265.00" stroke="#c8c8c8" stroke-width="0.7" />
<line x1="379.60" y1="235.90" x2="379.60" y2="265.20" stroke="#595959" stroke-width="1" />
<line x1="377.20" y1="236.40" x2="379.60" y2="236.40" stroke="#595959" stroke-width="1" />
<text transform="translate(358.52 239.01) scale(1 0.958)" font-size="9.00" fill="#1a1a1a">100</text>
<line x1="377.20" y1="250.55" x2="379.60" y2="250.55" stroke="#595959" stroke-width="1" />
<text transform="translate(363.54 253.16) scale(1 0.958)" font-size="9.00" fill="#1a1a1a">50</text>
<line x1="377.20" y1="264.70" x2="379.60" y2="264.70" stroke="#595959" stroke-width="1" />
<text transform="translate(368.54 267.31) scale(1 0.958)" font-size="9.00" fill="#1a1a1a">0</text>
<line x1="379.50" y1="264.70" x2="379.50" y2="266.60" stroke="#8a8a8a" stroke-width="0.8" />
<line x1="391.49" y1="264.70" x2="391.49" y2="266.60" stroke="#8a8a8a" stroke-width="0.8" />
<line x1="403.48" y1="264.70" x2="403.48" y2="266.60" stroke="#8a8a8a" stroke-width="0.8" />
<line x1="415.47" y1="264.70" x2="415.47" y2="266.60" stroke="#8a8a8a" stroke-width="0.8" />
<line x1="427.46" y1="264.70" x2="427.46" y2="266.60" stroke="#8a8a8a" stroke-width="0.8" />
<line x1="439.45" y1="264.70" x2="439.45" y2="266.60" stroke="#8a8a8a" stroke-width="0.8" />
<line x1="451.44" y1="264.70" x2="451.44" y2="266.60" stroke="#8a8a8a" stroke-width="0.8" />
<line x1="463.43" y1="264.70" x2="463.43" y2="266.60" stroke="#8a8a8a" stroke-width="0.8" />
<line x1="475.42" y1="264.70" x2="475.42" y2="266.60" stroke="#8a8a8a" stroke-width="0.8" />
<line x1="487.41" y1="264.70" x2="487.41" y2="266.60" stroke="#8a8a8a" stroke-width="0.8" />
<line x1="499.40" y1="264.70" x2="499.40" y2="266.60" stroke="#8a8a8a" stroke-width="0.8" />
<line x1="511.39" y1="264.70" x2="511.39" y2="266.60" stroke="#8a8a8a" stroke-width="0.8" />
<line x1="523.38" y1="264.70" x2="523.38" y2="266.60" stroke="#8a8a8a" stroke-width="0.8" />
<line x1="535.37" y1="264.70" x2="535.37" y2="266.60" stroke="#8a8a8a" stroke-width="0.8" />
<line x1="547.36" y1="264.70" x2="547.36" y2="266.60" stroke="#8a8a8a" stroke-width="0.8" />
<line x1="559.35" y1="264.70" x2="559.35" y2="266.60" stroke="#8a8a8a" stroke-width="0.8" />
<line x1="571.34" y1="264.70" x2="571.34" y2="266.60" stroke="#8a8a8a" stroke-width="0.8" />
<line x1="583.33" y1="264.70" x2="583.33" y2="266.60" stroke="#8a8a8a" stroke-width="0.8" />
<line x1="595.32" y1="264.70" x2="595.32" y2="266.60" stroke="#8a8a8a" stroke-width="0.8" />
<line x1="607.31" y1="264.70" x2="607.31" y2="266.60" stroke="#8a8a8a" stroke-width="0.8" />
<line x1="619.30" y1="264.70" x2="619.30" y2="266.60" stroke="#8a8a8a" stroke-width="0.8" />
<line x1="631.29" y1="264.70" x2="631.29" y2="266.60" stroke="#8a8a8a" stroke-width="0.8" />
<line x1="643.28" y1="264.70" x2="643.28" y2="266.60" stroke="#8a8a8a" stroke-width="0.8" />
<text transform="translate(355.65 268.27) scale(1 0.871) rotate(-90)" font-size="10.76" fill="#1a1a1a">Area (%)</text>
<rect x="419.20" y="271.0" width="18.8" height="2.8" fill="#f0fa3c" stroke="#b5bd20" stroke-width="0.6"/>
<text transform="translate(442.31 274.81) scale(1 1.029)" font-size="8.38" fill="#1a1a1a">D0</text>
<rect x="457.40" y="271.0" width="18.8" height="2.8" fill="#e5a94c" stroke="#b98236" stroke-width="0.6"/>
<text transform="translate(480.51 274.81) scale(1 1.029)" font-size="8.38" fill="#1a1a1a">D1</text>
<rect x="495.60" y="271.0" width="18.8" height="2.8" fill="#f08224" stroke="#c0661c" stroke-width="0.6"/>
<text transform="translate(518.71 274.86) scale(1 1.029)" font-size="8.38" fill="#1a1a1a">D2</text>
<rect x="533.80" y="271.0" width="18.8" height="2.8" fill="#ff2a14" stroke="#c8200e" stroke-width="0.6"/>
<text transform="translate(556.91 274.81) scale(1 1.029)" font-size="8.38" fill="#1a1a1a">D3</text>
<rect x="572.00" y="271.0" width="18.8" height="2.8" fill="#7b3539" stroke="#55242a" stroke-width="0.6"/>
<text transform="translate(595.11 274.81) scale(1 1.029)" font-size="8.38" fill="#1a1a1a">D4</text>
</svg></body></html>
